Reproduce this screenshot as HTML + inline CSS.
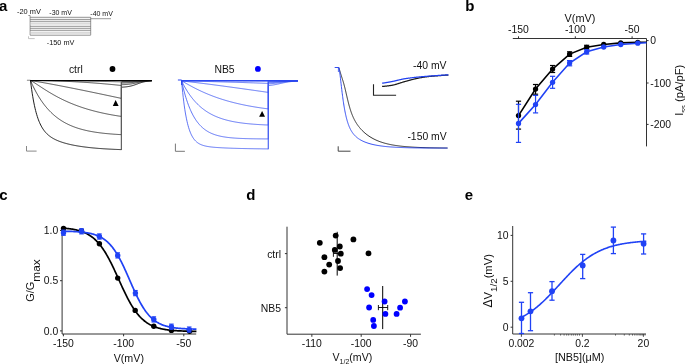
<!DOCTYPE html>
<html><head><meta charset="utf-8"><style>
html,body{margin:0;padding:0;background:#fff;width:685px;height:364px;overflow:hidden;}
svg{display:block;will-change:transform;}
text{font-family:"Liberation Sans",sans-serif;}
</style></head><body>
<svg width="685" height="364" viewBox="0 0 685 364" font-family="Liberation Sans, sans-serif">
<rect width="685" height="364" fill="#fff"/>
<text x="-1.00" y="11.00" font-size="15" text-anchor="start" fill="#000" font-weight="bold" >a</text>
<text x="17.00" y="14.20" font-size="7.4" text-anchor="start" fill="#111" >-20 mV</text>
<text x="49.30" y="15.20" font-size="7" text-anchor="start" fill="#111" >-30 mV</text>
<text x="90.30" y="16.00" font-size="7" text-anchor="start" fill="#111" >-40 mV</text>
<text x="46.80" y="44.50" font-size="7.3" text-anchor="start" fill="#111" >-150 mV</text>
<path d="M28.3,15.5 H30.1 V35.1" stroke="#555" stroke-width="0.6" fill="none" />
<line x1="30.10" y1="17.30" x2="90.70" y2="17.30" stroke="#6e6e6e" stroke-width="0.75"/>
<line x1="30.10" y1="19.40" x2="90.70" y2="19.40" stroke="#6e6e6e" stroke-width="0.75"/>
<line x1="30.10" y1="21.30" x2="90.70" y2="21.30" stroke="#6e6e6e" stroke-width="0.75"/>
<line x1="30.10" y1="26.30" x2="90.70" y2="26.30" stroke="#6e6e6e" stroke-width="0.75"/>
<line x1="30.10" y1="28.30" x2="90.70" y2="28.30" stroke="#6e6e6e" stroke-width="0.75"/>
<line x1="30.10" y1="30.30" x2="90.70" y2="30.30" stroke="#6e6e6e" stroke-width="0.75"/>
<line x1="30.10" y1="35.20" x2="90.70" y2="35.20" stroke="#6e6e6e" stroke-width="0.75"/>
<line x1="30.10" y1="23.00" x2="90.70" y2="23.00" stroke="#c4c4c4" stroke-width="0.75"/>
<line x1="30.10" y1="24.00" x2="90.70" y2="24.00" stroke="#c4c4c4" stroke-width="0.75"/>
<line x1="30.10" y1="32.20" x2="90.70" y2="32.20" stroke="#c4c4c4" stroke-width="0.75"/>
<line x1="30.10" y1="33.20" x2="90.70" y2="33.20" stroke="#c4c4c4" stroke-width="0.75"/>
<line x1="90.70" y1="17.20" x2="90.70" y2="35.10" stroke="#555" stroke-width="0.6"/>
<line x1="90.70" y1="18.69" x2="111.00" y2="18.69" stroke="#555" stroke-width="0.6"/>
<path d="M28.5,36.3 V38.6 H34.7" stroke="#aaa" stroke-width="0.7" fill="none" />
<line x1="26.90" y1="80.30" x2="30.50" y2="80.30" stroke="#999" stroke-width="1.2"/>
<path d="M30.50,80.60 L31.07,85.17 L31.64,89.36 L32.20,93.20 L32.77,96.74 L33.34,99.98 L33.91,102.97 L34.48,105.72 L35.05,108.25 L35.61,110.58 L36.18,112.73 L36.75,114.72 L37.32,116.56 L37.89,118.26 L38.45,119.83 L39.02,121.29 L39.59,122.64 L40.16,123.90 L40.73,125.06 L41.29,126.15 L41.86,127.17 L42.43,128.11 L43.00,129.00 L43.57,129.82 L44.14,130.60 L44.70,131.33 L45.27,132.01 L45.84,132.65 L46.41,133.26 L46.98,133.83 L47.54,134.37 L48.11,134.88 L48.68,135.37 L49.25,135.82 L49.82,136.26 L50.38,136.67 L50.95,137.07 L51.52,137.45 L52.09,137.80 L52.66,138.15 L53.23,138.48 L53.79,138.79 L54.36,139.09 L54.93,139.38 L55.50,139.66 L56.07,139.93 L56.63,140.19 L57.20,140.44 L57.77,140.68 L58.34,140.91 L58.91,141.14 L59.47,141.36 L60.04,141.57 L60.61,141.77 L61.18,141.97 L61.75,142.16 L62.32,142.35 L62.88,142.53 L63.45,142.71 L64.02,142.88 L64.59,143.05 L65.16,143.21 L65.72,143.37 L66.29,143.52 L66.86,143.67 L67.43,143.82 L68.00,143.96 L68.56,144.10 L69.13,144.24 L69.70,144.37 L70.27,144.50 L70.84,144.63 L71.41,144.75 L71.97,144.87 L72.54,144.99 L73.11,145.10 L73.68,145.22 L74.25,145.33 L74.81,145.44 L75.38,145.54 L75.95,145.65 L76.52,145.75 L77.09,145.85 L77.65,145.94 L78.22,146.04 L78.79,146.13 L79.36,146.22 L79.93,146.31 L80.50,146.40 L81.06,146.48 L81.63,146.57 L82.20,146.65 L82.77,146.73 L83.34,146.81 L83.90,146.88 L84.47,146.96 L85.04,147.03 L85.61,147.10 L86.18,147.17 L86.74,147.24 L87.31,147.31 L87.88,147.38 L88.45,147.44 L89.02,147.50 L89.59,147.57 L90.15,147.63 L90.72,147.69 L91.29,147.75 L91.86,147.80 L92.43,147.86 L92.99,147.92 L93.56,147.97 L94.13,148.02 L94.70,148.07 L95.27,148.13 L95.83,148.17 L96.40,148.22 L96.97,148.27 L97.54,148.32 L98.11,148.36 L98.67,148.41 L99.24,148.45 L99.81,148.50 L100.38,148.54 L100.95,148.58 L101.52,148.62 L102.08,148.66 L102.65,148.70 L103.22,148.74 L103.79,148.78 L104.36,148.81 L104.92,148.85 L105.49,148.88 L106.06,148.92 L106.63,148.95 L107.20,148.98 L107.77,149.02 L108.33,149.05 L108.90,149.08 L109.47,149.11 L110.04,149.14 L110.61,149.17 L111.17,149.20 L111.74,149.23 L112.31,149.25 L112.88,149.28 L113.45,149.31 L114.01,149.33 L114.58,149.36 L115.15,149.38 L115.72,149.41 L116.29,149.43 L116.86,149.46 L117.42,149.48 L117.99,149.50 L118.56,149.52 L119.13,149.54 L119.70,149.57 L120.26,149.59 L120.83,149.61 L121.40,149.63 L121.40,87.20 L121.91,87.18 L122.41,87.15 L122.92,87.12 L123.43,87.09 L123.93,87.05 L124.44,87.01 L124.95,86.97 L125.45,86.92 L125.96,86.87 L126.47,86.81 L126.97,86.75 L127.48,86.68 L127.99,86.60 L128.49,86.52 L129.00,86.43 L129.51,86.34 L130.01,86.23 L130.52,86.12 L131.03,86.00 L131.53,85.87 L132.04,85.74 L132.55,85.60 L133.05,85.45 L133.56,85.29 L134.07,85.12 L134.57,84.95 L135.08,84.78 L135.59,84.60 L136.09,84.41 L136.60,84.23 L137.11,84.04 L137.61,83.85 L138.12,83.67 L138.63,83.48 L139.13,83.30 L139.64,83.12 L140.15,82.95 L140.65,82.78 L141.16,82.62 L141.67,82.47 L142.17,82.33 L142.68,82.19 L143.19,82.06 L143.69,81.94 L144.20,81.82 L144.71,81.71 L145.21,81.62 L145.72,81.52 L146.23,81.44 L146.73,81.36 L147.24,81.29 L147.75,81.22 L148.25,81.17 L148.76,81.11 L149.27,81.06 L149.77,81.02 L150.28,80.97 L150.79,80.94 L151.29,80.90 L151.80,80.87" stroke="#111" stroke-width="0.95" fill="none" />
<path d="M30.50,80.60 L31.07,81.89 L31.64,83.16 L32.20,84.39 L32.77,85.60 L33.34,86.77 L33.91,87.92 L34.48,89.04 L35.05,90.14 L35.61,91.21 L36.18,92.26 L36.75,93.28 L37.32,94.27 L37.89,95.25 L38.45,96.20 L39.02,97.13 L39.59,98.04 L40.16,98.92 L40.73,99.79 L41.29,100.63 L41.86,101.46 L42.43,102.26 L43.00,103.05 L43.57,103.82 L44.14,104.57 L44.70,105.30 L45.27,106.02 L45.84,106.72 L46.41,107.40 L46.98,108.07 L47.54,108.72 L48.11,109.35 L48.68,109.97 L49.25,110.58 L49.82,111.17 L50.38,111.75 L50.95,112.32 L51.52,112.87 L52.09,113.41 L52.66,113.93 L53.23,114.45 L53.79,114.95 L54.36,115.44 L54.93,115.92 L55.50,116.38 L56.07,116.84 L56.63,117.29 L57.20,117.72 L57.77,118.15 L58.34,118.56 L58.91,118.97 L59.47,119.36 L60.04,119.75 L60.61,120.13 L61.18,120.50 L61.75,120.86 L62.32,121.21 L62.88,121.55 L63.45,121.89 L64.02,122.22 L64.59,122.54 L65.16,122.85 L65.72,123.16 L66.29,123.45 L66.86,123.74 L67.43,124.03 L68.00,124.31 L68.56,124.58 L69.13,124.84 L69.70,125.10 L70.27,125.35 L70.84,125.60 L71.41,125.84 L71.97,126.08 L72.54,126.31 L73.11,126.53 L73.68,126.75 L74.25,126.96 L74.81,127.17 L75.38,127.38 L75.95,127.58 L76.52,127.77 L77.09,127.96 L77.65,128.15 L78.22,128.33 L78.79,128.51 L79.36,128.68 L79.93,128.85 L80.50,129.01 L81.06,129.17 L81.63,129.33 L82.20,129.49 L82.77,129.64 L83.34,129.78 L83.90,129.92 L84.47,130.06 L85.04,130.20 L85.61,130.33 L86.18,130.46 L86.74,130.59 L87.31,130.72 L87.88,130.84 L88.45,130.96 L89.02,131.07 L89.59,131.18 L90.15,131.29 L90.72,131.40 L91.29,131.51 L91.86,131.61 L92.43,131.71 L92.99,131.81 L93.56,131.90 L94.13,132.00 L94.70,132.09 L95.27,132.18 L95.83,132.27 L96.40,132.35 L96.97,132.43 L97.54,132.51 L98.11,132.59 L98.67,132.67 L99.24,132.75 L99.81,132.82 L100.38,132.89 L100.95,132.96 L101.52,133.03 L102.08,133.10 L102.65,133.16 L103.22,133.23 L103.79,133.29 L104.36,133.35 L104.92,133.41 L105.49,133.47 L106.06,133.53 L106.63,133.58 L107.20,133.64 L107.77,133.69 L108.33,133.74 L108.90,133.79 L109.47,133.84 L110.04,133.89 L110.61,133.94 L111.17,133.98 L111.74,134.03 L112.31,134.07 L112.88,134.11 L113.45,134.16 L114.01,134.20 L114.58,134.24 L115.15,134.27 L115.72,134.31 L116.29,134.35 L116.86,134.39 L117.42,134.42 L117.99,134.46 L118.56,134.49 L119.13,134.52 L119.70,134.56 L120.26,134.59 L120.83,134.62 L121.40,134.65 L121.40,84.70 L121.91,84.69 L122.41,84.67 L122.92,84.65 L123.43,84.63 L123.93,84.61 L124.44,84.58 L124.95,84.56 L125.45,84.53 L125.96,84.49 L126.47,84.46 L126.97,84.42 L127.48,84.38 L127.99,84.33 L128.49,84.28 L129.00,84.22 L129.51,84.16 L130.01,84.10 L130.52,84.03 L131.03,83.96 L131.53,83.88 L132.04,83.79 L132.55,83.70 L133.05,83.61 L133.56,83.51 L134.07,83.41 L134.57,83.30 L135.08,83.20 L135.59,83.08 L136.09,82.97 L136.60,82.85 L137.11,82.74 L137.61,82.62 L138.12,82.51 L138.63,82.39 L139.13,82.28 L139.64,82.17 L140.15,82.06 L140.65,81.96 L141.16,81.86 L141.67,81.76 L142.17,81.67 L142.68,81.59 L143.19,81.51 L143.69,81.43 L144.20,81.36 L144.71,81.29 L145.21,81.23 L145.72,81.17 L146.23,81.12 L146.73,81.07 L147.24,81.03 L147.75,80.99 L148.25,80.95 L148.76,80.92 L149.27,80.89 L149.77,80.86 L150.28,80.83 L150.79,80.81 L151.29,80.79 L151.80,80.77" stroke="#111" stroke-width="0.75" fill="none" />
<path d="M30.50,80.60 L31.07,80.82 L31.64,81.11 L32.20,81.42 L32.77,81.75 L33.34,82.09 L33.91,82.44 L34.48,82.79 L35.05,83.16 L35.61,83.52 L36.18,83.89 L36.75,84.26 L37.32,84.64 L37.89,85.01 L38.45,85.38 L39.02,85.76 L39.59,86.13 L40.16,86.51 L40.73,86.88 L41.29,87.25 L41.86,87.63 L42.43,88.00 L43.00,88.36 L43.57,88.73 L44.14,89.09 L44.70,89.46 L45.27,89.82 L45.84,90.18 L46.41,90.53 L46.98,90.89 L47.54,91.24 L48.11,91.59 L48.68,91.93 L49.25,92.28 L49.82,92.62 L50.38,92.95 L50.95,93.29 L51.52,93.62 L52.09,93.95 L52.66,94.28 L53.23,94.60 L53.79,94.93 L54.36,95.24 L54.93,95.56 L55.50,95.87 L56.07,96.18 L56.63,96.49 L57.20,96.80 L57.77,97.10 L58.34,97.40 L58.91,97.69 L59.47,97.98 L60.04,98.27 L60.61,98.56 L61.18,98.85 L61.75,99.13 L62.32,99.41 L62.88,99.68 L63.45,99.95 L64.02,100.22 L64.59,100.49 L65.16,100.76 L65.72,101.02 L66.29,101.28 L66.86,101.53 L67.43,101.79 L68.00,102.04 L68.56,102.29 L69.13,102.53 L69.70,102.78 L70.27,103.02 L70.84,103.25 L71.41,103.49 L71.97,103.72 L72.54,103.95 L73.11,104.18 L73.68,104.40 L74.25,104.63 L74.81,104.85 L75.38,105.07 L75.95,105.28 L76.52,105.49 L77.09,105.70 L77.65,105.91 L78.22,106.12 L78.79,106.32 L79.36,106.52 L79.93,106.72 L80.50,106.92 L81.06,107.11 L81.63,107.31 L82.20,107.50 L82.77,107.68 L83.34,107.87 L83.90,108.05 L84.47,108.24 L85.04,108.42 L85.61,108.59 L86.18,108.77 L86.74,108.94 L87.31,109.11 L87.88,109.28 L88.45,109.45 L89.02,109.62 L89.59,109.78 L90.15,109.94 L90.72,110.10 L91.29,110.26 L91.86,110.42 L92.43,110.57 L92.99,110.72 L93.56,110.87 L94.13,111.02 L94.70,111.17 L95.27,111.31 L95.83,111.46 L96.40,111.60 L96.97,111.74 L97.54,111.88 L98.11,112.02 L98.67,112.15 L99.24,112.29 L99.81,112.42 L100.38,112.55 L100.95,112.68 L101.52,112.81 L102.08,112.93 L102.65,113.06 L103.22,113.18 L103.79,113.30 L104.36,113.42 L104.92,113.54 L105.49,113.66 L106.06,113.77 L106.63,113.89 L107.20,114.00 L107.77,114.11 L108.33,114.22 L108.90,114.33 L109.47,114.44 L110.04,114.55 L110.61,114.65 L111.17,114.76 L111.74,114.86 L112.31,114.96 L112.88,115.06 L113.45,115.16 L114.01,115.26 L114.58,115.35 L115.15,115.45 L115.72,115.54 L116.29,115.64 L116.86,115.73 L117.42,115.82 L117.99,115.91 L118.56,116.00 L119.13,116.09 L119.70,116.17 L120.26,116.26 L120.83,116.34 L121.40,116.43 L121.40,83.10 L121.91,83.09 L122.41,83.08 L122.92,83.07 L123.43,83.06 L123.93,83.04 L124.44,83.03 L124.95,83.01 L125.45,82.99 L125.96,82.97 L126.47,82.95 L126.97,82.93 L127.48,82.90 L127.99,82.87 L128.49,82.84 L129.00,82.81 L129.51,82.77 L130.01,82.73 L130.52,82.69 L131.03,82.65 L131.53,82.60 L132.04,82.55 L132.55,82.49 L133.05,82.44 L133.56,82.38 L134.07,82.31 L134.57,82.25 L135.08,82.18 L135.59,82.11 L136.09,82.04 L136.60,81.97 L137.11,81.90 L137.61,81.83 L138.12,81.76 L138.63,81.69 L139.13,81.62 L139.64,81.56 L140.15,81.49 L140.65,81.43 L141.16,81.37 L141.67,81.31 L142.17,81.25 L142.68,81.20 L143.19,81.15 L143.69,81.11 L144.20,81.06 L144.71,81.02 L145.21,80.98 L145.72,80.95 L146.23,80.92 L146.73,80.89 L147.24,80.86 L147.75,80.84 L148.25,80.81 L148.76,80.79 L149.27,80.77 L149.77,80.76 L150.28,80.74 L150.79,80.73 L151.29,80.72 L151.80,80.70" stroke="#111" stroke-width="0.75" fill="none" />
<path d="M30.50,80.60 L31.07,80.67 L31.64,80.74 L32.20,80.82 L32.77,80.91 L33.34,80.99 L33.91,81.08 L34.48,81.17 L35.05,81.26 L35.61,81.35 L36.18,81.44 L36.75,81.54 L37.32,81.63 L37.89,81.73 L38.45,81.82 L39.02,81.92 L39.59,82.01 L40.16,82.11 L40.73,82.21 L41.29,82.31 L41.86,82.41 L42.43,82.51 L43.00,82.61 L43.57,82.71 L44.14,82.81 L44.70,82.91 L45.27,83.01 L45.84,83.11 L46.41,83.22 L46.98,83.32 L47.54,83.42 L48.11,83.53 L48.68,83.63 L49.25,83.74 L49.82,83.84 L50.38,83.94 L50.95,84.05 L51.52,84.16 L52.09,84.26 L52.66,84.37 L53.23,84.47 L53.79,84.58 L54.36,84.69 L54.93,84.79 L55.50,84.90 L56.07,85.01 L56.63,85.12 L57.20,85.23 L57.77,85.33 L58.34,85.44 L58.91,85.55 L59.47,85.66 L60.04,85.77 L60.61,85.88 L61.18,85.99 L61.75,86.10 L62.32,86.21 L62.88,86.32 L63.45,86.43 L64.02,86.54 L64.59,86.65 L65.16,86.76 L65.72,86.87 L66.29,86.99 L66.86,87.10 L67.43,87.21 L68.00,87.32 L68.56,87.43 L69.13,87.54 L69.70,87.66 L70.27,87.77 L70.84,87.88 L71.41,88.00 L71.97,88.11 L72.54,88.22 L73.11,88.33 L73.68,88.45 L74.25,88.56 L74.81,88.68 L75.38,88.79 L75.95,88.90 L76.52,89.02 L77.09,89.13 L77.65,89.25 L78.22,89.36 L78.79,89.48 L79.36,89.59 L79.93,89.71 L80.50,89.82 L81.06,89.94 L81.63,90.05 L82.20,90.17 L82.77,90.28 L83.34,90.40 L83.90,90.52 L84.47,90.63 L85.04,90.75 L85.61,90.86 L86.18,90.98 L86.74,91.10 L87.31,91.21 L87.88,91.33 L88.45,91.45 L89.02,91.57 L89.59,91.68 L90.15,91.80 L90.72,91.92 L91.29,92.03 L91.86,92.15 L92.43,92.27 L92.99,92.39 L93.56,92.51 L94.13,92.62 L94.70,92.74 L95.27,92.86 L95.83,92.98 L96.40,93.10 L96.97,93.22 L97.54,93.33 L98.11,93.45 L98.67,93.57 L99.24,93.69 L99.81,93.81 L100.38,93.93 L100.95,94.05 L101.52,94.17 L102.08,94.29 L102.65,94.41 L103.22,94.53 L103.79,94.65 L104.36,94.77 L104.92,94.89 L105.49,95.01 L106.06,95.13 L106.63,95.25 L107.20,95.37 L107.77,95.49 L108.33,95.61 L108.90,95.73 L109.47,95.85 L110.04,95.97 L110.61,96.09 L111.17,96.21 L111.74,96.33 L112.31,96.45 L112.88,96.57 L113.45,96.69 L114.01,96.82 L114.58,96.94 L115.15,97.06 L115.72,97.18 L116.29,97.30 L116.86,97.42 L117.42,97.55 L117.99,97.67 L118.56,97.79 L119.13,97.91 L119.70,98.03 L120.26,98.16 L120.83,98.28 L121.40,98.40 L121.40,82.00 L121.91,81.99 L122.41,81.99 L122.92,81.98 L123.43,81.98 L123.93,81.97 L124.44,81.96 L124.95,81.95 L125.45,81.94 L125.96,81.93 L126.47,81.92 L126.97,81.90 L127.48,81.89 L127.99,81.87 L128.49,81.86 L129.00,81.84 L129.51,81.82 L130.01,81.79 L130.52,81.77 L131.03,81.75 L131.53,81.72 L132.04,81.69 L132.55,81.66 L133.05,81.63 L133.56,81.59 L134.07,81.56 L134.57,81.52 L135.08,81.49 L135.59,81.45 L136.09,81.41 L136.60,81.37 L137.11,81.33 L137.61,81.29 L138.12,81.25 L138.63,81.21 L139.13,81.17 L139.64,81.14 L140.15,81.10 L140.65,81.06 L141.16,81.03 L141.67,81.00 L142.17,80.97 L142.68,80.94 L143.19,80.91 L143.69,80.88 L144.20,80.86 L144.71,80.84 L145.21,80.82 L145.72,80.80 L146.23,80.78 L146.73,80.76 L147.24,80.75 L147.75,80.73 L148.25,80.72 L148.76,80.71 L149.27,80.70 L149.77,80.69 L150.28,80.68 L150.79,80.67 L151.29,80.66 L151.80,80.66" stroke="#111" stroke-width="0.75" fill="none" />
<path d="M30.50,80.60 L31.07,80.60 L31.64,80.60 L32.20,80.60 L32.77,80.60 L33.34,80.60 L33.91,80.61 L34.48,80.61 L35.05,80.61 L35.61,80.62 L36.18,80.62 L36.75,80.62 L37.32,80.63 L37.89,80.63 L38.45,80.64 L39.02,80.64 L39.59,80.65 L40.16,80.66 L40.73,80.66 L41.29,80.67 L41.86,80.68 L42.43,80.68 L43.00,80.69 L43.57,80.70 L44.14,80.71 L44.70,80.72 L45.27,80.73 L45.84,80.74 L46.41,80.75 L46.98,80.76 L47.54,80.77 L48.11,80.78 L48.68,80.80 L49.25,80.81 L49.82,80.82 L50.38,80.83 L50.95,80.85 L51.52,80.86 L52.09,80.88 L52.66,80.89 L53.23,80.91 L53.79,80.92 L54.36,80.94 L54.93,80.95 L55.50,80.97 L56.07,80.99 L56.63,81.01 L57.20,81.02 L57.77,81.04 L58.34,81.06 L58.91,81.08 L59.47,81.10 L60.04,81.12 L60.61,81.14 L61.18,81.16 L61.75,81.18 L62.32,81.20 L62.88,81.22 L63.45,81.24 L64.02,81.27 L64.59,81.29 L65.16,81.31 L65.72,81.34 L66.29,81.36 L66.86,81.38 L67.43,81.41 L68.00,81.43 L68.56,81.46 L69.13,81.49 L69.70,81.51 L70.27,81.54 L70.84,81.56 L71.41,81.59 L71.97,81.62 L72.54,81.65 L73.11,81.68 L73.68,81.71 L74.25,81.73 L74.81,81.76 L75.38,81.79 L75.95,81.82 L76.52,81.86 L77.09,81.89 L77.65,81.92 L78.22,81.95 L78.79,81.98 L79.36,82.02 L79.93,82.05 L80.50,82.08 L81.06,82.12 L81.63,82.15 L82.20,82.19 L82.77,82.22 L83.34,82.26 L83.90,82.29 L84.47,82.33 L85.04,82.36 L85.61,82.40 L86.18,82.44 L86.74,82.48 L87.31,82.51 L87.88,82.55 L88.45,82.59 L89.02,82.63 L89.59,82.67 L90.15,82.71 L90.72,82.75 L91.29,82.79 L91.86,82.83 L92.43,82.87 L92.99,82.92 L93.56,82.96 L94.13,83.00 L94.70,83.04 L95.27,83.09 L95.83,83.13 L96.40,83.18 L96.97,83.22 L97.54,83.27 L98.11,83.31 L98.67,83.36 L99.24,83.40 L99.81,83.45 L100.38,83.50 L100.95,83.54 L101.52,83.59 L102.08,83.64 L102.65,83.69 L103.22,83.74 L103.79,83.79 L104.36,83.83 L104.92,83.88 L105.49,83.94 L106.06,83.99 L106.63,84.04 L107.20,84.09 L107.77,84.14 L108.33,84.19 L108.90,84.25 L109.47,84.30 L110.04,84.35 L110.61,84.41 L111.17,84.46 L111.74,84.51 L112.31,84.57 L112.88,84.62 L113.45,84.68 L114.01,84.74 L114.58,84.79 L115.15,84.85 L115.72,84.91 L116.29,84.96 L116.86,85.02 L117.42,85.08 L117.99,85.14 L118.56,85.20 L119.13,85.26 L119.70,85.32 L120.26,85.38 L120.83,85.44 L121.40,85.50 L121.40,81.30 L121.91,81.30 L122.41,81.29 L122.92,81.29 L123.43,81.29 L123.93,81.28 L124.44,81.28 L124.95,81.28 L125.45,81.27 L125.96,81.26 L126.47,81.26 L126.97,81.25 L127.48,81.24 L127.99,81.24 L128.49,81.23 L129.00,81.22 L129.51,81.21 L130.01,81.20 L130.52,81.19 L131.03,81.17 L131.53,81.16 L132.04,81.15 L132.55,81.13 L133.05,81.11 L133.56,81.10 L134.07,81.08 L134.57,81.06 L135.08,81.04 L135.59,81.02 L136.09,81.00 L136.60,80.98 L137.11,80.96 L137.61,80.95 L138.12,80.93 L138.63,80.91 L139.13,80.89 L139.64,80.87 L140.15,80.85 L140.65,80.83 L141.16,80.81 L141.67,80.80 L142.17,80.78 L142.68,80.77 L143.19,80.75 L143.69,80.74 L144.20,80.73 L144.71,80.72 L145.21,80.71 L145.72,80.70 L146.23,80.69 L146.73,80.68 L147.24,80.67 L147.75,80.67 L148.25,80.66 L148.76,80.65 L149.27,80.65 L149.77,80.64 L150.28,80.64 L150.79,80.64 L151.29,80.63 L151.80,80.63" stroke="#111" stroke-width="0.75" fill="none" />
<path d="M30.50,80.60 L31.07,80.60 L31.64,80.60 L32.20,80.60 L32.77,80.60 L33.34,80.61 L33.91,80.61 L34.48,80.61 L35.05,80.61 L35.61,80.62 L36.18,80.62 L36.75,80.62 L37.32,80.62 L37.89,80.63 L38.45,80.63 L39.02,80.63 L39.59,80.64 L40.16,80.64 L40.73,80.65 L41.29,80.65 L41.86,80.65 L42.43,80.66 L43.00,80.66 L43.57,80.67 L44.14,80.67 L44.70,80.67 L45.27,80.68 L45.84,80.68 L46.41,80.69 L46.98,80.69 L47.54,80.70 L48.11,80.70 L48.68,80.71 L49.25,80.71 L49.82,80.72 L50.38,80.72 L50.95,80.73 L51.52,80.73 L52.09,80.74 L52.66,80.74 L53.23,80.75 L53.79,80.76 L54.36,80.76 L54.93,80.77 L55.50,80.77 L56.07,80.78 L56.63,80.78 L57.20,80.79 L57.77,80.80 L58.34,80.80 L58.91,80.81 L59.47,80.82 L60.04,80.82 L60.61,80.83 L61.18,80.84 L61.75,80.84 L62.32,80.85 L62.88,80.86 L63.45,80.86 L64.02,80.87 L64.59,80.88 L65.16,80.88 L65.72,80.89 L66.29,80.90 L66.86,80.90 L67.43,80.91 L68.00,80.92 L68.56,80.93 L69.13,80.93 L69.70,80.94 L70.27,80.95 L70.84,80.95 L71.41,80.96 L71.97,80.97 L72.54,80.98 L73.11,80.99 L73.68,80.99 L74.25,81.00 L74.81,81.01 L75.38,81.02 L75.95,81.02 L76.52,81.03 L77.09,81.04 L77.65,81.05 L78.22,81.06 L78.79,81.06 L79.36,81.07 L79.93,81.08 L80.50,81.09 L81.06,81.10 L81.63,81.11 L82.20,81.11 L82.77,81.12 L83.34,81.13 L83.90,81.14 L84.47,81.15 L85.04,81.16 L85.61,81.17 L86.18,81.18 L86.74,81.18 L87.31,81.19 L87.88,81.20 L88.45,81.21 L89.02,81.22 L89.59,81.23 L90.15,81.24 L90.72,81.25 L91.29,81.26 L91.86,81.27 L92.43,81.27 L92.99,81.28 L93.56,81.29 L94.13,81.30 L94.70,81.31 L95.27,81.32 L95.83,81.33 L96.40,81.34 L96.97,81.35 L97.54,81.36 L98.11,81.37 L98.67,81.38 L99.24,81.39 L99.81,81.40 L100.38,81.41 L100.95,81.42 L101.52,81.43 L102.08,81.44 L102.65,81.45 L103.22,81.46 L103.79,81.47 L104.36,81.48 L104.92,81.49 L105.49,81.50 L106.06,81.51 L106.63,81.52 L107.20,81.53 L107.77,81.54 L108.33,81.55 L108.90,81.56 L109.47,81.57 L110.04,81.58 L110.61,81.59 L111.17,81.60 L111.74,81.61 L112.31,81.62 L112.88,81.64 L113.45,81.65 L114.01,81.66 L114.58,81.67 L115.15,81.68 L115.72,81.69 L116.29,81.70 L116.86,81.71 L117.42,81.72 L117.99,81.73 L118.56,81.74 L119.13,81.76 L119.70,81.77 L120.26,81.78 L120.83,81.79 L121.40,81.80 L121.40,81.00 L121.91,81.00 L122.41,81.00 L122.92,81.00 L123.43,80.99 L123.93,80.99 L124.44,80.99 L124.95,80.99 L125.45,80.98 L125.96,80.98 L126.47,80.98 L126.97,80.97 L127.48,80.97 L127.99,80.96 L128.49,80.96 L129.00,80.95 L129.51,80.95 L130.01,80.94 L130.52,80.93 L131.03,80.93 L131.53,80.92 L132.04,80.91 L132.55,80.90 L133.05,80.89 L133.56,80.88 L134.07,80.87 L134.57,80.86 L135.08,80.85 L135.59,80.84 L136.09,80.83 L136.60,80.82 L137.11,80.81 L137.61,80.80 L138.12,80.79 L138.63,80.77 L139.13,80.76 L139.64,80.75 L140.15,80.74 L140.65,80.73 L141.16,80.72 L141.67,80.71 L142.17,80.70 L142.68,80.70 L143.19,80.69 L143.69,80.68 L144.20,80.67 L144.71,80.67 L145.21,80.66 L145.72,80.66 L146.23,80.65 L146.73,80.65 L147.24,80.64 L147.75,80.64 L148.25,80.63 L148.76,80.63 L149.27,80.63 L149.77,80.63 L150.28,80.62 L150.79,80.62 L151.29,80.62 L151.80,80.62" stroke="#111" stroke-width="0.75" fill="none" />
<line x1="30.20" y1="80.40" x2="151.80" y2="80.40" stroke="#000" stroke-width="1.05"/>
<line x1="121.40" y1="81.00" x2="121.40" y2="149.30" stroke="#777" stroke-width="0.8"/>
<path d="M26.5,146.0 V151.1 H36.6" stroke="#888" stroke-width="1.0" fill="none" />
<text x="68.90" y="72.90" font-size="10.4" text-anchor="start" fill="#111" >ctrl</text>
<circle cx="112.50" cy="69.00" r="2.9" fill="#000"/>
<polygon points="115.6,99.9 112.8,105.9 118.6,105.9" fill="#000"/>
<line x1="177.90" y1="80.00" x2="181.60" y2="80.00" stroke="#2a46f0" stroke-width="1.0"/>
<line x1="181.60" y1="80.00" x2="181.60" y2="85.00" stroke="#2a46f0" stroke-width="1.0"/>
<path d="M181.60,81.00 L182.14,87.00 L182.68,92.45 L183.23,97.40 L183.77,101.88 L184.31,105.95 L184.85,109.65 L185.39,113.01 L185.94,116.06 L186.48,118.82 L187.02,121.34 L187.56,123.62 L188.10,125.70 L188.64,127.59 L189.19,129.30 L189.73,130.86 L190.27,132.28 L190.81,133.57 L191.35,134.75 L191.90,135.82 L192.44,136.79 L192.98,137.68 L193.52,138.49 L194.06,139.23 L194.60,139.91 L195.15,140.52 L195.69,141.09 L196.23,141.60 L196.77,142.07 L197.31,142.50 L197.86,142.90 L198.40,143.26 L198.94,143.59 L199.48,143.90 L200.02,144.18 L200.57,144.43 L201.11,144.67 L201.65,144.89 L202.19,145.09 L202.73,145.28 L203.28,145.45 L203.82,145.61 L204.36,145.76 L204.90,145.90 L205.44,146.03 L205.98,146.15 L206.53,146.26 L207.07,146.36 L207.61,146.46 L208.15,146.55 L208.69,146.64 L209.24,146.72 L209.78,146.79 L210.32,146.86 L210.86,146.93 L211.40,147.00 L211.94,147.06 L212.49,147.11 L213.03,147.17 L213.57,147.22 L214.11,147.27 L214.65,147.32 L215.20,147.36 L215.74,147.41 L216.28,147.45 L216.82,147.49 L217.36,147.53 L217.91,147.56 L218.45,147.60 L218.99,147.63 L219.53,147.67 L220.07,147.70 L220.62,147.73 L221.16,147.76 L221.70,147.79 L222.24,147.82 L222.78,147.85 L223.32,147.87 L223.87,147.90 L224.41,147.93 L224.95,147.95 L225.49,147.97 L226.03,148.00 L226.58,148.02 L227.12,148.04 L227.66,148.07 L228.20,148.09 L228.74,148.11 L229.28,148.13 L229.83,148.15 L230.37,148.17 L230.91,148.19 L231.45,148.21 L231.99,148.22 L232.54,148.24 L233.08,148.26 L233.62,148.28 L234.16,148.29 L234.70,148.31 L235.25,148.33 L235.79,148.34 L236.33,148.36 L236.87,148.37 L237.41,148.39 L237.95,148.40 L238.50,148.42 L239.04,148.43 L239.58,148.45 L240.12,148.46 L240.66,148.47 L241.21,148.49 L241.75,148.50 L242.29,148.51 L242.83,148.52 L243.37,148.54 L243.92,148.55 L244.46,148.56 L245.00,148.57 L245.54,148.58 L246.08,148.59 L246.62,148.60 L247.17,148.62 L247.71,148.63 L248.25,148.64 L248.79,148.65 L249.33,148.66 L249.88,148.67 L250.42,148.68 L250.96,148.68 L251.50,148.69 L252.04,148.70 L252.59,148.71 L253.13,148.72 L253.67,148.73 L254.21,148.74 L254.75,148.75 L255.30,148.75 L255.84,148.76 L256.38,148.77 L256.92,148.78 L257.46,148.79 L258.00,148.79 L258.55,148.80 L259.09,148.81 L259.63,148.81 L260.17,148.82 L260.71,148.83 L261.26,148.83 L261.80,148.84 L262.34,148.85 L262.88,148.85 L263.42,148.86 L263.97,148.87 L264.51,148.87 L265.05,148.88 L265.59,148.88 L266.13,148.89 L266.67,148.89 L267.22,148.90 L267.76,148.91 L268.30,148.91 L268.30,85.60 L268.80,85.55 L269.29,85.50 L269.79,85.44 L270.28,85.39 L270.78,85.32 L271.27,85.26 L271.76,85.19 L272.26,85.12 L272.75,85.04 L273.25,84.96 L273.75,84.88 L274.24,84.79 L274.74,84.71 L275.23,84.61 L275.73,84.52 L276.22,84.42 L276.72,84.32 L277.21,84.21 L277.70,84.11 L278.20,84.00 L278.69,83.89 L279.19,83.78 L279.69,83.66 L280.18,83.55 L280.68,83.44 L281.17,83.33 L281.67,83.22 L282.16,83.11 L282.66,83.00 L283.15,82.89 L283.64,82.78 L284.14,82.68 L284.63,82.58 L285.13,82.48 L285.62,82.39 L286.12,82.30 L286.62,82.21 L287.11,82.13 L287.61,82.04 L288.10,81.97 L288.60,81.89 L289.09,81.82 L289.58,81.76 L290.08,81.69 L290.57,81.63 L291.07,81.58 L291.56,81.52 L292.06,81.47 L292.56,81.43 L293.05,81.38 L293.55,81.34 L294.04,81.30 L294.54,81.26 L295.03,81.23 L295.52,81.20 L296.02,81.17 L296.51,81.14 L297.01,81.12 L297.50,81.09 L298.00,81.07" stroke="#2a46f0" stroke-width="0.75" fill="none" />
<path d="M181.60,81.00 L182.14,83.40 L182.68,85.71 L183.23,87.92 L183.77,90.03 L184.31,92.06 L184.85,94.01 L185.39,95.87 L185.94,97.66 L186.48,99.38 L187.02,101.02 L187.56,102.59 L188.10,104.10 L188.64,105.55 L189.19,106.93 L189.73,108.26 L190.27,109.54 L190.81,110.76 L191.35,111.93 L191.90,113.05 L192.44,114.13 L192.98,115.16 L193.52,116.15 L194.06,117.09 L194.60,118.00 L195.15,118.87 L195.69,119.71 L196.23,120.51 L196.77,121.27 L197.31,122.01 L197.86,122.71 L198.40,123.39 L198.94,124.03 L199.48,124.65 L200.02,125.25 L200.57,125.82 L201.11,126.37 L201.65,126.89 L202.19,127.39 L202.73,127.87 L203.28,128.33 L203.82,128.78 L204.36,129.20 L204.90,129.61 L205.44,130.00 L205.98,130.37 L206.53,130.73 L207.07,131.07 L207.61,131.40 L208.15,131.71 L208.69,132.02 L209.24,132.30 L209.78,132.58 L210.32,132.85 L210.86,133.10 L211.40,133.35 L211.94,133.58 L212.49,133.81 L213.03,134.02 L213.57,134.23 L214.11,134.43 L214.65,134.62 L215.20,134.80 L215.74,134.97 L216.28,135.14 L216.82,135.30 L217.36,135.45 L217.91,135.60 L218.45,135.74 L218.99,135.88 L219.53,136.00 L220.07,136.13 L220.62,136.25 L221.16,136.36 L221.70,136.47 L222.24,136.58 L222.78,136.68 L223.32,136.77 L223.87,136.87 L224.41,136.95 L224.95,137.04 L225.49,137.12 L226.03,137.20 L226.58,137.27 L227.12,137.34 L227.66,137.41 L228.20,137.48 L228.74,137.54 L229.28,137.60 L229.83,137.66 L230.37,137.72 L230.91,137.77 L231.45,137.82 L231.99,137.87 L232.54,137.92 L233.08,137.96 L233.62,138.00 L234.16,138.04 L234.70,138.08 L235.25,138.12 L235.79,138.16 L236.33,138.19 L236.87,138.23 L237.41,138.26 L237.95,138.29 L238.50,138.32 L239.04,138.35 L239.58,138.37 L240.12,138.40 L240.66,138.43 L241.21,138.45 L241.75,138.47 L242.29,138.49 L242.83,138.51 L243.37,138.53 L243.92,138.55 L244.46,138.57 L245.00,138.59 L245.54,138.61 L246.08,138.62 L246.62,138.64 L247.17,138.65 L247.71,138.67 L248.25,138.68 L248.79,138.70 L249.33,138.71 L249.88,138.72 L250.42,138.73 L250.96,138.74 L251.50,138.75 L252.04,138.76 L252.59,138.77 L253.13,138.78 L253.67,138.79 L254.21,138.80 L254.75,138.81 L255.30,138.82 L255.84,138.82 L256.38,138.83 L256.92,138.84 L257.46,138.85 L258.00,138.85 L258.55,138.86 L259.09,138.86 L259.63,138.87 L260.17,138.87 L260.71,138.88 L261.26,138.88 L261.80,138.89 L262.34,138.89 L262.88,138.90 L263.42,138.90 L263.97,138.91 L264.51,138.91 L265.05,138.91 L265.59,138.92 L266.13,138.92 L266.67,138.92 L267.22,138.93 L267.76,138.93 L268.30,138.93 L268.30,83.90 L268.80,83.87 L269.29,83.84 L269.79,83.80 L270.28,83.76 L270.78,83.72 L271.27,83.68 L271.76,83.64 L272.26,83.59 L272.75,83.54 L273.25,83.49 L273.75,83.44 L274.24,83.38 L274.74,83.32 L275.23,83.26 L275.73,83.20 L276.22,83.14 L276.72,83.07 L277.21,83.00 L277.70,82.93 L278.20,82.86 L278.69,82.79 L279.19,82.72 L279.69,82.65 L280.18,82.58 L280.68,82.50 L281.17,82.43 L281.67,82.36 L282.16,82.29 L282.66,82.22 L283.15,82.15 L283.64,82.08 L284.14,82.02 L284.63,81.95 L285.13,81.89 L285.62,81.83 L286.12,81.77 L286.62,81.71 L287.11,81.66 L287.61,81.60 L288.10,81.55 L288.60,81.51 L289.09,81.46 L289.58,81.42 L290.08,81.38 L290.57,81.34 L291.07,81.30 L291.56,81.27 L292.06,81.23 L292.56,81.20 L293.05,81.18 L293.55,81.15 L294.04,81.12 L294.54,81.10 L295.03,81.08 L295.52,81.06 L296.02,81.04 L296.51,81.02 L297.01,81.00 L297.50,80.99 L298.00,80.98" stroke="#2a46f0" stroke-width="0.75" fill="none" />
<path d="M181.60,81.00 L182.14,82.09 L182.68,83.16 L183.23,84.20 L183.77,85.21 L184.31,86.20 L184.85,87.17 L185.39,88.11 L185.94,89.03 L186.48,89.93 L187.02,90.80 L187.56,91.66 L188.10,92.49 L188.64,93.30 L189.19,94.10 L189.73,94.87 L190.27,95.62 L190.81,96.36 L191.35,97.08 L191.90,97.78 L192.44,98.46 L192.98,99.13 L193.52,99.78 L194.06,100.42 L194.60,101.04 L195.15,101.64 L195.69,102.23 L196.23,102.81 L196.77,103.37 L197.31,103.92 L197.86,104.45 L198.40,104.98 L198.94,105.49 L199.48,105.98 L200.02,106.47 L200.57,106.94 L201.11,107.40 L201.65,107.85 L202.19,108.29 L202.73,108.72 L203.28,109.14 L203.82,109.54 L204.36,109.94 L204.90,110.33 L205.44,110.71 L205.98,111.08 L206.53,111.44 L207.07,111.79 L207.61,112.13 L208.15,112.47 L208.69,112.80 L209.24,113.11 L209.78,113.43 L210.32,113.73 L210.86,114.03 L211.40,114.31 L211.94,114.60 L212.49,114.87 L213.03,115.14 L213.57,115.40 L214.11,115.66 L214.65,115.91 L215.20,116.15 L215.74,116.39 L216.28,116.62 L216.82,116.84 L217.36,117.06 L217.91,117.28 L218.45,117.49 L218.99,117.69 L219.53,117.89 L220.07,118.09 L220.62,118.28 L221.16,118.46 L221.70,118.64 L222.24,118.82 L222.78,118.99 L223.32,119.16 L223.87,119.33 L224.41,119.49 L224.95,119.64 L225.49,119.79 L226.03,119.94 L226.58,120.09 L227.12,120.23 L227.66,120.37 L228.20,120.50 L228.74,120.63 L229.28,120.76 L229.83,120.89 L230.37,121.01 L230.91,121.13 L231.45,121.24 L231.99,121.36 L232.54,121.47 L233.08,121.57 L233.62,121.68 L234.16,121.78 L234.70,121.88 L235.25,121.98 L235.79,122.08 L236.33,122.17 L236.87,122.26 L237.41,122.35 L237.95,122.43 L238.50,122.52 L239.04,122.60 L239.58,122.68 L240.12,122.76 L240.66,122.84 L241.21,122.91 L241.75,122.98 L242.29,123.05 L242.83,123.12 L243.37,123.19 L243.92,123.26 L244.46,123.32 L245.00,123.38 L245.54,123.45 L246.08,123.50 L246.62,123.56 L247.17,123.62 L247.71,123.68 L248.25,123.73 L248.79,123.78 L249.33,123.83 L249.88,123.88 L250.42,123.93 L250.96,123.98 L251.50,124.03 L252.04,124.07 L252.59,124.12 L253.13,124.16 L253.67,124.20 L254.21,124.24 L254.75,124.29 L255.30,124.32 L255.84,124.36 L256.38,124.40 L256.92,124.44 L257.46,124.47 L258.00,124.51 L258.55,124.54 L259.09,124.57 L259.63,124.61 L260.17,124.64 L260.71,124.67 L261.26,124.70 L261.80,124.73 L262.34,124.76 L262.88,124.78 L263.42,124.81 L263.97,124.84 L264.51,124.86 L265.05,124.89 L265.59,124.91 L266.13,124.94 L266.67,124.96 L267.22,124.98 L267.76,125.01 L268.30,125.03 L268.30,82.80 L268.80,82.78 L269.29,82.76 L269.79,82.74 L270.28,82.71 L270.78,82.69 L271.27,82.66 L271.76,82.63 L272.26,82.60 L272.75,82.57 L273.25,82.53 L273.75,82.50 L274.24,82.46 L274.74,82.43 L275.23,82.39 L275.73,82.35 L276.22,82.31 L276.72,82.26 L277.21,82.22 L277.70,82.18 L278.20,82.13 L278.69,82.09 L279.19,82.04 L279.69,81.99 L280.18,81.95 L280.68,81.90 L281.17,81.85 L281.67,81.81 L282.16,81.76 L282.66,81.72 L283.15,81.67 L283.64,81.63 L284.14,81.58 L284.63,81.54 L285.13,81.50 L285.62,81.46 L286.12,81.42 L286.62,81.39 L287.11,81.35 L287.61,81.32 L288.10,81.29 L288.60,81.26 L289.09,81.23 L289.58,81.20 L290.08,81.17 L290.57,81.15 L291.07,81.12 L291.56,81.10 L292.06,81.08 L292.56,81.06 L293.05,81.04 L293.55,81.02 L294.04,81.01 L294.54,80.99 L295.03,80.98 L295.52,80.97 L296.02,80.95 L296.51,80.94 L297.01,80.93 L297.50,80.92 L298.00,80.91" stroke="#2a46f0" stroke-width="0.75" fill="none" />
<path d="M181.60,81.00 L182.14,81.24 L182.68,81.52 L183.23,81.81 L183.77,82.10 L184.31,82.40 L184.85,82.70 L185.39,83.00 L185.94,83.30 L186.48,83.60 L187.02,83.90 L187.56,84.20 L188.10,84.50 L188.64,84.80 L189.19,85.10 L189.73,85.40 L190.27,85.69 L190.81,85.99 L191.35,86.28 L191.90,86.57 L192.44,86.86 L192.98,87.14 L193.52,87.43 L194.06,87.71 L194.60,87.99 L195.15,88.27 L195.69,88.54 L196.23,88.82 L196.77,89.09 L197.31,89.36 L197.86,89.62 L198.40,89.89 L198.94,90.15 L199.48,90.41 L200.02,90.67 L200.57,90.92 L201.11,91.18 L201.65,91.43 L202.19,91.67 L202.73,91.92 L203.28,92.17 L203.82,92.41 L204.36,92.65 L204.90,92.88 L205.44,93.12 L205.98,93.35 L206.53,93.58 L207.07,93.81 L207.61,94.04 L208.15,94.26 L208.69,94.48 L209.24,94.70 L209.78,94.92 L210.32,95.13 L210.86,95.35 L211.40,95.56 L211.94,95.77 L212.49,95.98 L213.03,96.18 L213.57,96.38 L214.11,96.58 L214.65,96.78 L215.20,96.98 L215.74,97.17 L216.28,97.37 L216.82,97.56 L217.36,97.75 L217.91,97.93 L218.45,98.12 L218.99,98.30 L219.53,98.48 L220.07,98.66 L220.62,98.84 L221.16,99.02 L221.70,99.19 L222.24,99.36 L222.78,99.53 L223.32,99.70 L223.87,99.87 L224.41,100.03 L224.95,100.20 L225.49,100.36 L226.03,100.52 L226.58,100.68 L227.12,100.83 L227.66,100.99 L228.20,101.14 L228.74,101.29 L229.28,101.44 L229.83,101.59 L230.37,101.74 L230.91,101.88 L231.45,102.03 L231.99,102.17 L232.54,102.31 L233.08,102.45 L233.62,102.59 L234.16,102.72 L234.70,102.86 L235.25,102.99 L235.79,103.12 L236.33,103.25 L236.87,103.38 L237.41,103.51 L237.95,103.64 L238.50,103.76 L239.04,103.89 L239.58,104.01 L240.12,104.13 L240.66,104.25 L241.21,104.37 L241.75,104.49 L242.29,104.60 L242.83,104.72 L243.37,104.83 L243.92,104.94 L244.46,105.05 L245.00,105.16 L245.54,105.27 L246.08,105.38 L246.62,105.49 L247.17,105.59 L247.71,105.69 L248.25,105.80 L248.79,105.90 L249.33,106.00 L249.88,106.10 L250.42,106.20 L250.96,106.30 L251.50,106.39 L252.04,106.49 L252.59,106.58 L253.13,106.67 L253.67,106.77 L254.21,106.86 L254.75,106.95 L255.30,107.04 L255.84,107.13 L256.38,107.21 L256.92,107.30 L257.46,107.38 L258.00,107.47 L258.55,107.55 L259.09,107.64 L259.63,107.72 L260.17,107.80 L260.71,107.88 L261.26,107.96 L261.80,108.04 L262.34,108.11 L262.88,108.19 L263.42,108.26 L263.97,108.34 L264.51,108.41 L265.05,108.49 L265.59,108.56 L266.13,108.63 L266.67,108.70 L267.22,108.77 L267.76,108.84 L268.30,108.91 L268.30,82.00 L268.80,81.99 L269.29,81.97 L269.79,81.96 L270.28,81.95 L270.78,81.93 L271.27,81.91 L271.76,81.90 L272.26,81.88 L272.75,81.86 L273.25,81.84 L273.75,81.82 L274.24,81.80 L274.74,81.78 L275.23,81.75 L275.73,81.73 L276.22,81.70 L276.72,81.68 L277.21,81.65 L277.70,81.63 L278.20,81.60 L278.69,81.57 L279.19,81.54 L279.69,81.52 L280.18,81.49 L280.68,81.46 L281.17,81.43 L281.67,81.40 L282.16,81.38 L282.66,81.35 L283.15,81.32 L283.64,81.30 L284.14,81.27 L284.63,81.25 L285.13,81.22 L285.62,81.20 L286.12,81.17 L286.62,81.15 L287.11,81.13 L287.61,81.11 L288.10,81.09 L288.60,81.07 L289.09,81.06 L289.58,81.04 L290.08,81.02 L290.57,81.01 L291.07,80.99 L291.56,80.98 L292.06,80.97 L292.56,80.96 L293.05,80.95 L293.55,80.93 L294.04,80.93 L294.54,80.92 L295.03,80.91 L295.52,80.90 L296.02,80.89 L296.51,80.89 L297.01,80.88 L297.50,80.87 L298.00,80.87" stroke="#2a46f0" stroke-width="0.75" fill="none" />
<path d="M181.60,81.00 L182.14,81.04 L182.68,81.09 L183.23,81.14 L183.77,81.20 L184.31,81.25 L184.85,81.31 L185.39,81.36 L185.94,81.42 L186.48,81.48 L187.02,81.54 L187.56,81.60 L188.10,81.66 L188.64,81.72 L189.19,81.78 L189.73,81.84 L190.27,81.91 L190.81,81.97 L191.35,82.03 L191.90,82.09 L192.44,82.16 L192.98,82.22 L193.52,82.29 L194.06,82.35 L194.60,82.41 L195.15,82.48 L195.69,82.54 L196.23,82.61 L196.77,82.68 L197.31,82.74 L197.86,82.81 L198.40,82.87 L198.94,82.94 L199.48,83.01 L200.02,83.07 L200.57,83.14 L201.11,83.21 L201.65,83.28 L202.19,83.34 L202.73,83.41 L203.28,83.48 L203.82,83.55 L204.36,83.62 L204.90,83.69 L205.44,83.76 L205.98,83.82 L206.53,83.89 L207.07,83.96 L207.61,84.03 L208.15,84.10 L208.69,84.17 L209.24,84.24 L209.78,84.31 L210.32,84.38 L210.86,84.45 L211.40,84.52 L211.94,84.59 L212.49,84.66 L213.03,84.73 L213.57,84.80 L214.11,84.88 L214.65,84.95 L215.20,85.02 L215.74,85.09 L216.28,85.16 L216.82,85.23 L217.36,85.30 L217.91,85.38 L218.45,85.45 L218.99,85.52 L219.53,85.59 L220.07,85.66 L220.62,85.74 L221.16,85.81 L221.70,85.88 L222.24,85.95 L222.78,86.03 L223.32,86.10 L223.87,86.17 L224.41,86.25 L224.95,86.32 L225.49,86.39 L226.03,86.46 L226.58,86.54 L227.12,86.61 L227.66,86.69 L228.20,86.76 L228.74,86.83 L229.28,86.91 L229.83,86.98 L230.37,87.05 L230.91,87.13 L231.45,87.20 L231.99,87.28 L232.54,87.35 L233.08,87.42 L233.62,87.50 L234.16,87.57 L234.70,87.65 L235.25,87.72 L235.79,87.80 L236.33,87.87 L236.87,87.95 L237.41,88.02 L237.95,88.10 L238.50,88.17 L239.04,88.25 L239.58,88.32 L240.12,88.40 L240.66,88.47 L241.21,88.55 L241.75,88.62 L242.29,88.70 L242.83,88.78 L243.37,88.85 L243.92,88.93 L244.46,89.00 L245.00,89.08 L245.54,89.16 L246.08,89.23 L246.62,89.31 L247.17,89.38 L247.71,89.46 L248.25,89.54 L248.79,89.61 L249.33,89.69 L249.88,89.77 L250.42,89.84 L250.96,89.92 L251.50,90.00 L252.04,90.07 L252.59,90.15 L253.13,90.23 L253.67,90.30 L254.21,90.38 L254.75,90.46 L255.30,90.53 L255.84,90.61 L256.38,90.69 L256.92,90.77 L257.46,90.84 L258.00,90.92 L258.55,91.00 L259.09,91.07 L259.63,91.15 L260.17,91.23 L260.71,91.31 L261.26,91.39 L261.80,91.46 L262.34,91.54 L262.88,91.62 L263.42,91.70 L263.97,91.77 L264.51,91.85 L265.05,91.93 L265.59,92.01 L266.13,92.09 L266.67,92.17 L267.22,92.24 L267.76,92.32 L268.30,92.40 L268.30,81.40 L268.80,81.39 L269.29,81.39 L269.79,81.38 L270.28,81.37 L270.78,81.37 L271.27,81.36 L271.76,81.35 L272.26,81.34 L272.75,81.33 L273.25,81.32 L273.75,81.31 L274.24,81.30 L274.74,81.29 L275.23,81.28 L275.73,81.26 L276.22,81.25 L276.72,81.24 L277.21,81.23 L277.70,81.21 L278.20,81.20 L278.69,81.19 L279.19,81.17 L279.69,81.16 L280.18,81.14 L280.68,81.13 L281.17,81.12 L281.67,81.10 L282.16,81.09 L282.66,81.07 L283.15,81.06 L283.64,81.05 L284.14,81.04 L284.63,81.02 L285.13,81.01 L285.62,81.00 L286.12,80.99 L286.62,80.98 L287.11,80.97 L287.61,80.96 L288.10,80.95 L288.60,80.94 L289.09,80.93 L289.58,80.92 L290.08,80.91 L290.57,80.90 L291.07,80.90 L291.56,80.89 L292.06,80.88 L292.56,80.88 L293.05,80.87 L293.55,80.87 L294.04,80.86 L294.54,80.86 L295.03,80.85 L295.52,80.85 L296.02,80.85 L296.51,80.84 L297.01,80.84 L297.50,80.84 L298.00,80.83" stroke="#2a46f0" stroke-width="0.75" fill="none" />
<path d="M181.60,81.00 L182.14,81.00 L182.68,81.01 L183.23,81.01 L183.77,81.02 L184.31,81.03 L184.85,81.03 L185.39,81.04 L185.94,81.05 L186.48,81.06 L187.02,81.07 L187.56,81.07 L188.10,81.08 L188.64,81.09 L189.19,81.10 L189.73,81.11 L190.27,81.12 L190.81,81.13 L191.35,81.14 L191.90,81.15 L192.44,81.16 L192.98,81.17 L193.52,81.18 L194.06,81.19 L194.60,81.20 L195.15,81.21 L195.69,81.23 L196.23,81.24 L196.77,81.25 L197.31,81.26 L197.86,81.27 L198.40,81.28 L198.94,81.30 L199.48,81.31 L200.02,81.32 L200.57,81.33 L201.11,81.35 L201.65,81.36 L202.19,81.37 L202.73,81.38 L203.28,81.40 L203.82,81.41 L204.36,81.42 L204.90,81.43 L205.44,81.45 L205.98,81.46 L206.53,81.47 L207.07,81.49 L207.61,81.50 L208.15,81.52 L208.69,81.53 L209.24,81.54 L209.78,81.56 L210.32,81.57 L210.86,81.58 L211.40,81.60 L211.94,81.61 L212.49,81.63 L213.03,81.64 L213.57,81.66 L214.11,81.67 L214.65,81.69 L215.20,81.70 L215.74,81.71 L216.28,81.73 L216.82,81.74 L217.36,81.76 L217.91,81.77 L218.45,81.79 L218.99,81.80 L219.53,81.82 L220.07,81.83 L220.62,81.85 L221.16,81.87 L221.70,81.88 L222.24,81.90 L222.78,81.91 L223.32,81.93 L223.87,81.94 L224.41,81.96 L224.95,81.97 L225.49,81.99 L226.03,82.01 L226.58,82.02 L227.12,82.04 L227.66,82.05 L228.20,82.07 L228.74,82.09 L229.28,82.10 L229.83,82.12 L230.37,82.14 L230.91,82.15 L231.45,82.17 L231.99,82.19 L232.54,82.20 L233.08,82.22 L233.62,82.24 L234.16,82.25 L234.70,82.27 L235.25,82.29 L235.79,82.30 L236.33,82.32 L236.87,82.34 L237.41,82.35 L237.95,82.37 L238.50,82.39 L239.04,82.41 L239.58,82.42 L240.12,82.44 L240.66,82.46 L241.21,82.47 L241.75,82.49 L242.29,82.51 L242.83,82.53 L243.37,82.54 L243.92,82.56 L244.46,82.58 L245.00,82.60 L245.54,82.62 L246.08,82.63 L246.62,82.65 L247.17,82.67 L247.71,82.69 L248.25,82.71 L248.79,82.72 L249.33,82.74 L249.88,82.76 L250.42,82.78 L250.96,82.80 L251.50,82.81 L252.04,82.83 L252.59,82.85 L253.13,82.87 L253.67,82.89 L254.21,82.91 L254.75,82.92 L255.30,82.94 L255.84,82.96 L256.38,82.98 L256.92,83.00 L257.46,83.02 L258.00,83.04 L258.55,83.06 L259.09,83.07 L259.63,83.09 L260.17,83.11 L260.71,83.13 L261.26,83.15 L261.80,83.17 L262.34,83.19 L262.88,83.21 L263.42,83.23 L263.97,83.25 L264.51,83.26 L265.05,83.28 L265.59,83.30 L266.13,83.32 L266.67,83.34 L267.22,83.36 L267.76,83.38 L268.30,83.40 L268.30,81.00 L268.80,81.00 L269.29,81.00 L269.79,80.99 L270.28,80.99 L270.78,80.99 L271.27,80.99 L271.76,80.98 L272.26,80.98 L272.75,80.98 L273.25,80.97 L273.75,80.97 L274.24,80.97 L274.74,80.96 L275.23,80.96 L275.73,80.95 L276.22,80.95 L276.72,80.95 L277.21,80.94 L277.70,80.94 L278.20,80.93 L278.69,80.93 L279.19,80.92 L279.69,80.92 L280.18,80.91 L280.68,80.91 L281.17,80.91 L281.67,80.90 L282.16,80.90 L282.66,80.89 L283.15,80.89 L283.64,80.88 L284.14,80.88 L284.63,80.87 L285.13,80.87 L285.62,80.87 L286.12,80.86 L286.62,80.86 L287.11,80.86 L287.61,80.85 L288.10,80.85 L288.60,80.85 L289.09,80.84 L289.58,80.84 L290.08,80.84 L290.57,80.83 L291.07,80.83 L291.56,80.83 L292.06,80.83 L292.56,80.83 L293.05,80.82 L293.55,80.82 L294.04,80.82 L294.54,80.82 L295.03,80.82 L295.52,80.82 L296.02,80.82 L296.51,80.81 L297.01,80.81 L297.50,80.81 L298.00,80.81" stroke="#2a46f0" stroke-width="0.75" fill="none" />
<path d="M181.60,81.00 L182.14,81.00 L182.68,81.01 L183.23,81.01 L183.77,81.01 L184.31,81.02 L184.85,81.02 L185.39,81.02 L185.94,81.03 L186.48,81.03 L187.02,81.03 L187.56,81.03 L188.10,81.04 L188.64,81.04 L189.19,81.04 L189.73,81.05 L190.27,81.05 L190.81,81.05 L191.35,81.06 L191.90,81.06 L192.44,81.06 L192.98,81.07 L193.52,81.07 L194.06,81.07 L194.60,81.08 L195.15,81.08 L195.69,81.08 L196.23,81.08 L196.77,81.09 L197.31,81.09 L197.86,81.09 L198.40,81.10 L198.94,81.10 L199.48,81.10 L200.02,81.11 L200.57,81.11 L201.11,81.11 L201.65,81.12 L202.19,81.12 L202.73,81.12 L203.28,81.12 L203.82,81.13 L204.36,81.13 L204.90,81.13 L205.44,81.14 L205.98,81.14 L206.53,81.14 L207.07,81.15 L207.61,81.15 L208.15,81.15 L208.69,81.16 L209.24,81.16 L209.78,81.16 L210.32,81.17 L210.86,81.17 L211.40,81.17 L211.94,81.17 L212.49,81.18 L213.03,81.18 L213.57,81.18 L214.11,81.19 L214.65,81.19 L215.20,81.19 L215.74,81.20 L216.28,81.20 L216.82,81.20 L217.36,81.21 L217.91,81.21 L218.45,81.21 L218.99,81.22 L219.53,81.22 L220.07,81.22 L220.62,81.22 L221.16,81.23 L221.70,81.23 L222.24,81.23 L222.78,81.24 L223.32,81.24 L223.87,81.24 L224.41,81.25 L224.95,81.25 L225.49,81.25 L226.03,81.26 L226.58,81.26 L227.12,81.26 L227.66,81.27 L228.20,81.27 L228.74,81.27 L229.28,81.28 L229.83,81.28 L230.37,81.28 L230.91,81.28 L231.45,81.29 L231.99,81.29 L232.54,81.29 L233.08,81.30 L233.62,81.30 L234.16,81.30 L234.70,81.31 L235.25,81.31 L235.79,81.31 L236.33,81.32 L236.87,81.32 L237.41,81.32 L237.95,81.33 L238.50,81.33 L239.04,81.33 L239.58,81.33 L240.12,81.34 L240.66,81.34 L241.21,81.34 L241.75,81.35 L242.29,81.35 L242.83,81.35 L243.37,81.36 L243.92,81.36 L244.46,81.36 L245.00,81.37 L245.54,81.37 L246.08,81.37 L246.62,81.38 L247.17,81.38 L247.71,81.38 L248.25,81.38 L248.79,81.39 L249.33,81.39 L249.88,81.39 L250.42,81.40 L250.96,81.40 L251.50,81.40 L252.04,81.41 L252.59,81.41 L253.13,81.41 L253.67,81.42 L254.21,81.42 L254.75,81.42 L255.30,81.42 L255.84,81.43 L256.38,81.43 L256.92,81.43 L257.46,81.44 L258.00,81.44 L258.55,81.44 L259.09,81.45 L259.63,81.45 L260.17,81.45 L260.71,81.46 L261.26,81.46 L261.80,81.46 L262.34,81.47 L262.88,81.47 L263.42,81.47 L263.97,81.47 L264.51,81.48 L265.05,81.48 L265.59,81.48 L266.13,81.49 L266.67,81.49 L267.22,81.49 L267.76,81.50 L268.30,81.50 L268.30,80.80 L268.80,80.80 L269.29,80.80 L269.79,80.80 L270.28,80.80 L270.78,80.80 L271.27,80.80 L271.76,80.80 L272.26,80.80 L272.75,80.80 L273.25,80.80 L273.75,80.80 L274.24,80.80 L274.74,80.80 L275.23,80.80 L275.73,80.80 L276.22,80.80 L276.72,80.80 L277.21,80.80 L277.70,80.80 L278.20,80.80 L278.69,80.80 L279.19,80.80 L279.69,80.80 L280.18,80.80 L280.68,80.80 L281.17,80.80 L281.67,80.80 L282.16,80.80 L282.66,80.80 L283.15,80.80 L283.64,80.80 L284.14,80.80 L284.63,80.80 L285.13,80.80 L285.62,80.80 L286.12,80.80 L286.62,80.80 L287.11,80.80 L287.61,80.80 L288.10,80.80 L288.60,80.80 L289.09,80.80 L289.58,80.80 L290.08,80.80 L290.57,80.80 L291.07,80.80 L291.56,80.80 L292.06,80.80 L292.56,80.80 L293.05,80.80 L293.55,80.80 L294.04,80.80 L294.54,80.80 L295.03,80.80 L295.52,80.80 L296.02,80.80 L296.51,80.80 L297.01,80.80 L297.50,80.80 L298.00,80.80" stroke="#2a46f0" stroke-width="0.75" fill="none" />
<line x1="181.60" y1="80.50" x2="298.00" y2="80.50" stroke="#2a46f0" stroke-width="1.15"/>
<line x1="268.30" y1="81.00" x2="268.30" y2="149.30" stroke="#4a64f2" stroke-width="0.75"/>
<path d="M175.4,143.6 V151.3 H184.9" stroke="#777" stroke-width="1.0" fill="none" />
<text x="214.40" y="72.90" font-size="10.4" text-anchor="start" fill="#111" >NB5</text>
<circle cx="257.90" cy="68.90" r="2.9" fill="#0000ff"/>
<polygon points="262.1,111.1 259.1,116.8 265.0,116.8" fill="#000"/>
<path d="M338.90,67.60 L339.08,68.24 L339.25,68.87 L339.43,69.49 L339.61,70.11 L339.79,70.72 L339.96,71.32 L340.14,71.92 L340.32,72.51 L340.50,73.10 L340.67,73.68 L340.85,74.26 L341.03,74.83 L341.21,75.40 L341.38,75.96 L341.56,76.51 L341.74,77.07 L341.91,77.62 L342.09,78.17 L342.27,78.72 L342.45,79.28 L342.62,79.84 L342.80,80.40 L342.98,80.97 L343.16,81.55 L343.33,82.14 L343.51,82.75 L343.69,83.36 L343.86,83.99 L344.04,84.64 L344.22,85.30 L344.40,85.97 L344.57,86.66 L344.75,87.36 L344.93,88.07 L345.11,88.80 L345.28,89.54 L345.46,90.29 L345.64,91.04 L345.82,91.80 L345.99,92.57 L346.17,93.34 L346.35,94.11 L346.52,94.88 L346.70,95.66 L346.88,96.43 L347.06,97.19 L347.23,97.95 L347.41,98.70 L347.59,99.45 L347.77,100.19 L347.94,100.92 L348.12,101.64 L348.30,102.35 L348.47,103.04 L348.65,103.73 L348.83,104.41 L349.01,105.07 L349.18,105.72 L349.36,106.35 L349.54,106.98 L349.72,107.59 L349.89,108.19 L350.07,108.78 L350.25,109.35 L350.43,109.91 L350.60,110.46 L350.78,111.00 L350.96,111.52 L351.13,112.03 L351.31,112.53 L351.49,113.02 L351.67,113.50 L351.84,113.97 L352.02,114.43 L352.20,114.88 L352.38,115.32 L352.55,115.75 L352.73,116.17 L352.91,116.58 L353.08,116.98 L353.26,117.37 L353.44,117.76 L353.62,118.14 L353.79,118.51 L353.97,118.87 L354.15,119.22 L354.33,119.57 L354.50,119.91 L354.68,120.25 L354.86,120.58 L355.04,120.90 L355.21,121.22 L355.39,121.53 L355.57,121.83 L355.74,122.13 L355.92,122.43 L356.10,122.72 L356.28,123.01 L356.45,123.29 L356.63,123.56 L356.81,123.83 L356.99,124.10 L357.16,124.36 L357.34,124.62 L357.52,124.88 L357.69,125.13 L357.87,125.38 L358.05,125.62 L358.23,125.86 L358.40,126.10 L358.58,126.34 L358.76,126.57 L358.94,126.79 L359.11,127.02 L359.29,127.24 L359.47,127.46 L359.65,127.68 L359.82,127.89 L360.00,128.10 L360.20,128.33 L361.18,129.43 L362.16,130.47 L363.14,131.43 L364.12,132.34 L365.10,133.20 L366.09,134.01 L367.07,134.77 L368.05,135.49 L369.03,136.17 L370.01,136.81 L370.99,137.42 L371.97,137.99 L372.95,138.54 L373.93,139.05 L374.91,139.54 L375.89,140.00 L376.88,140.44 L377.86,140.85 L378.84,141.24 L379.82,141.61 L380.80,141.96 L381.78,142.29 L382.76,142.61 L383.74,142.90 L384.72,143.19 L385.70,143.45 L386.68,143.70 L387.67,143.94 L388.65,144.17 L389.63,144.38 L390.61,144.58 L391.59,144.78 L392.57,144.96 L393.55,145.13 L394.53,145.29 L395.51,145.45 L396.49,145.59 L397.47,145.73 L398.46,145.86 L399.44,145.99 L400.42,146.10 L401.40,146.21 L402.38,146.32 L403.36,146.42 L404.34,146.51 L405.32,146.60 L406.30,146.69 L407.28,146.77 L408.26,146.84 L409.24,146.91 L410.23,146.98 L411.21,147.04 L412.19,147.11 L413.17,147.16 L414.15,147.22 L415.13,147.27 L416.11,147.32 L417.09,147.36 L418.07,147.41 L419.05,147.45 L420.03,147.49 L421.02,147.52 L422.00,147.56 L422.98,147.59 L423.96,147.62 L424.94,147.65 L425.92,147.68 L426.90,147.71 L427.88,147.73 L428.86,147.76 L429.84,147.78 L430.82,147.80 L431.81,147.82 L432.79,147.84 L433.77,147.86 L434.75,147.88 L435.73,147.89 L436.71,147.91 L437.69,147.92 L438.67,147.94 L439.65,147.95 L440.63,147.96 L441.61,147.98 L442.60,147.99 L443.58,148.00 L444.56,148.01 L445.54,148.02 L446.52,148.03 L447.50,148.03" stroke="#222" stroke-width="0.95" fill="none" />
<path d="M334.7,67.5 H338.9 L338.90,67.60 L339.08,68.21 L339.25,69.10 L339.43,70.19 L339.61,71.41 L339.79,72.74 L339.96,74.15 L340.14,75.62 L340.32,77.12 L340.50,78.66 L340.67,80.21 L340.85,81.77 L341.03,83.32 L341.21,84.87 L341.38,86.41 L341.56,87.93 L341.74,89.42 L341.91,90.90 L342.09,92.34 L342.27,93.76 L342.45,95.15 L342.62,96.50 L342.80,97.83 L342.98,99.12 L343.16,100.37 L343.33,101.60 L343.51,102.79 L343.69,103.95 L343.86,105.07 L344.04,106.16 L344.22,107.22 L344.40,108.25 L344.57,109.24 L344.75,110.21 L344.93,111.14 L345.11,112.05 L345.28,112.92 L345.46,113.77 L345.64,114.60 L345.82,115.39 L345.99,116.17 L346.17,116.91 L346.35,117.64 L346.52,118.34 L346.70,119.01 L346.88,119.67 L347.06,120.30 L347.23,120.92 L347.41,121.52 L347.59,122.09 L347.77,122.65 L347.94,123.19 L348.12,123.71 L348.30,124.22 L348.47,124.71 L348.65,125.19 L348.83,125.65 L349.01,126.10 L349.18,126.54 L349.36,126.96 L349.54,127.37 L349.72,127.76 L349.89,128.15 L350.07,128.52 L350.25,128.88 L350.43,129.24 L350.60,129.58 L350.78,129.91 L350.96,130.24 L351.13,130.55 L351.31,130.86 L351.49,131.15 L351.67,131.44 L351.84,131.72 L352.02,132.00 L352.20,132.27 L352.38,132.53 L352.55,132.78 L352.73,133.03 L352.91,133.27 L353.08,133.50 L353.26,133.73 L353.44,133.96 L353.62,134.18 L353.79,134.39 L353.97,134.60 L354.15,134.80 L354.33,135.00 L354.50,135.19 L354.68,135.38 L354.86,135.57 L355.04,135.75 L355.21,135.93 L355.39,136.10 L355.57,136.27 L355.74,136.44 L355.92,136.60 L356.10,136.76 L356.28,136.92 L356.45,137.07 L356.63,137.23 L356.81,137.37 L356.99,137.52 L357.16,137.66 L357.34,137.80 L357.52,137.94 L357.69,138.07 L357.87,138.20 L358.05,138.33 L358.23,138.46 L358.40,138.58 L358.58,138.71 L358.76,138.83 L358.94,138.95 L359.11,139.06 L359.29,139.18 L359.47,139.29 L359.65,139.40 L359.82,139.51 L360.00,139.62 L360.20,139.74 L361.18,140.29 L362.16,140.80 L363.14,141.27 L364.12,141.71 L365.10,142.11 L366.09,142.49 L367.07,142.84 L368.05,143.16 L369.03,143.47 L370.01,143.75 L370.99,144.02 L371.97,144.27 L372.95,144.50 L373.93,144.72 L374.91,144.93 L375.89,145.12 L376.88,145.30 L377.86,145.47 L378.84,145.63 L379.82,145.78 L380.80,145.92 L381.78,146.06 L382.76,146.18 L383.74,146.30 L384.72,146.41 L385.70,146.51 L386.68,146.61 L387.67,146.70 L388.65,146.78 L389.63,146.86 L390.61,146.94 L391.59,147.01 L392.57,147.07 L393.55,147.14 L394.53,147.20 L395.51,147.25 L396.49,147.30 L397.47,147.35 L398.46,147.40 L399.44,147.44 L400.42,147.48 L401.40,147.52 L402.38,147.55 L403.36,147.59 L404.34,147.62 L405.32,147.65 L406.30,147.68 L407.28,147.70 L408.26,147.73 L409.24,147.75 L410.23,147.77 L411.21,147.79 L412.19,147.81 L413.17,147.83 L414.15,147.85 L415.13,147.86 L416.11,147.88 L417.09,147.89 L418.07,147.90 L419.05,147.92 L420.03,147.93 L421.02,147.94 L422.00,147.95 L422.98,147.96 L423.96,147.97 L424.94,147.98 L425.92,147.98 L426.90,147.99 L427.88,148.00 L428.86,148.00 L429.84,148.01 L430.82,148.02 L431.81,148.02 L432.79,148.03 L433.77,148.03 L434.75,148.04 L435.73,148.04 L436.71,148.04 L437.69,148.05 L438.67,148.05 L439.65,148.06 L440.63,148.06 L441.61,148.06 L442.60,148.06 L443.58,148.07 L444.56,148.07 L445.54,148.07 L446.52,148.07 L447.50,148.08" stroke="#2a46f0" stroke-width="0.95" fill="none" />
<line x1="338.40" y1="67.50" x2="338.40" y2="72.00" stroke="#2a46f0" stroke-width="0.8"/>
<path d="M338.2,146.3 V151.2 H350.5" stroke="#444" stroke-width="1.0" fill="none" />
<path d="M382.10,86.40 L382.43,86.39 L382.77,86.37 L383.10,86.35 L383.43,86.33 L383.77,86.31 L384.10,86.29 L384.43,86.26 L384.77,86.23 L385.10,86.20 L385.43,86.17 L385.76,86.14 L386.10,86.10 L386.43,86.06 L386.76,86.03 L387.10,85.99 L387.43,85.95 L387.76,85.90 L388.10,85.86 L388.43,85.82 L388.76,85.77 L389.10,85.72 L389.43,85.68 L389.76,85.63 L390.10,85.58 L390.43,85.53 L390.76,85.48 L391.10,85.43 L391.43,85.38 L391.76,85.32 L392.09,85.27 L392.43,85.20 L392.76,85.13 L393.09,85.06 L393.43,84.99 L393.76,84.91 L394.09,84.83 L394.43,84.74 L394.76,84.66 L395.09,84.57 L395.43,84.47 L395.76,84.38 L396.09,84.28 L396.43,84.18 L396.76,84.08 L397.09,83.98 L397.43,83.87 L397.76,83.77 L398.09,83.66 L398.43,83.56 L398.76,83.45 L399.09,83.34 L399.42,83.23 L399.76,83.12 L400.09,83.01 L400.42,82.91 L400.76,82.80 L401.09,82.69 L401.42,82.59 L401.76,82.48 L402.09,82.38 L402.42,82.27 L402.76,82.17 L403.09,82.07 L403.42,81.97 L403.76,81.88 L404.09,81.78 L404.42,81.69 L404.76,81.60 L405.09,81.51 L405.42,81.42 L405.75,81.33 L406.09,81.24 L406.42,81.15 L406.75,81.05 L407.09,80.96 L407.42,80.87 L407.75,80.78 L408.09,80.68 L408.42,80.59 L408.75,80.50 L409.09,80.40 L409.42,80.31 L409.75,80.22 L410.09,80.13 L410.42,80.04 L410.75,79.95 L411.09,79.86 L411.42,79.77 L411.75,79.68 L412.08,79.59 L412.42,79.50 L412.75,79.42 L413.08,79.33 L413.42,79.25 L413.75,79.17 L414.08,79.08 L414.42,79.00 L414.75,78.92 L415.08,78.84 L415.42,78.77 L415.75,78.69 L416.08,78.62 L416.42,78.54 L416.75,78.47 L417.08,78.40 L417.42,78.34 L417.75,78.27 L418.08,78.21 L418.42,78.14 L418.75,78.08 L419.08,78.01 L419.41,77.95 L419.75,77.89 L420.08,77.82 L420.41,77.76 L420.75,77.70 L421.08,77.64 L421.41,77.58 L421.75,77.53 L422.08,77.47 L422.41,77.41 L422.75,77.35 L423.08,77.30 L423.41,77.25 L423.75,77.19 L424.08,77.14 L424.41,77.09 L424.75,77.04 L425.08,76.99 L425.41,76.94 L425.74,76.90 L426.08,76.85 L426.41,76.81 L426.74,76.76 L427.08,76.72 L427.41,76.68 L427.74,76.64 L428.08,76.60 L428.41,76.57 L428.74,76.53 L429.08,76.49 L429.41,76.46 L429.74,76.43 L430.08,76.39 L430.41,76.36 L430.74,76.33 L431.08,76.30 L431.41,76.27 L431.74,76.24 L432.07,76.21 L432.41,76.18 L432.74,76.15 L433.07,76.13 L433.41,76.10 L433.74,76.07 L434.07,76.05 L434.41,76.02 L434.74,75.99 L435.07,75.97 L435.41,75.94 L435.74,75.92 L436.07,75.89 L436.41,75.87 L436.74,75.84 L437.07,75.82 L437.41,75.79 L437.74,75.77 L438.07,75.75 L438.41,75.72 L438.74,75.70 L439.07,75.67 L439.40,75.65 L439.74,75.62 L440.07,75.59 L440.40,75.57 L440.74,75.54 L441.07,75.52 L441.40,75.49 L441.74,75.47 L442.07,75.44 L442.40,75.42 L442.74,75.39 L443.07,75.37 L443.40,75.35 L443.74,75.32 L444.07,75.30 L444.40,75.27 L444.74,75.25 L445.07,75.23 L445.40,75.20 L445.73,75.18 L446.07,75.16 L446.40,75.13 L446.73,75.11 L447.07,75.09 L447.40,75.07 L447.73,75.04 L448.07,75.02 L448.40,75.00" stroke="#1a1a1a" stroke-width="1.25" fill="none" />
<path d="M382.10,83.20 L382.43,83.15 L382.77,83.11 L383.10,83.06 L383.43,83.01 L383.77,82.96 L384.10,82.91 L384.43,82.86 L384.77,82.81 L385.10,82.76 L385.43,82.71 L385.76,82.65 L386.10,82.60 L386.43,82.55 L386.76,82.49 L387.10,82.44 L387.43,82.38 L387.76,82.33 L388.10,82.27 L388.43,82.21 L388.76,82.16 L389.10,82.10 L389.43,82.04 L389.76,81.98 L390.10,81.92 L390.43,81.86 L390.76,81.80 L391.10,81.74 L391.43,81.68 L391.76,81.61 L392.09,81.55 L392.43,81.48 L392.76,81.41 L393.09,81.34 L393.43,81.26 L393.76,81.19 L394.09,81.12 L394.43,81.04 L394.76,80.96 L395.09,80.88 L395.43,80.80 L395.76,80.72 L396.09,80.64 L396.43,80.56 L396.76,80.48 L397.09,80.40 L397.43,80.32 L397.76,80.23 L398.09,80.15 L398.43,80.07 L398.76,79.99 L399.09,79.91 L399.42,79.83 L399.76,79.75 L400.09,79.67 L400.42,79.60 L400.76,79.52 L401.09,79.45 L401.42,79.37 L401.76,79.30 L402.09,79.23 L402.42,79.16 L402.76,79.10 L403.09,79.03 L403.42,78.97 L403.76,78.91 L404.09,78.85 L404.42,78.80 L404.76,78.74 L405.09,78.69 L405.42,78.64 L405.75,78.58 L406.09,78.53 L406.42,78.48 L406.75,78.43 L407.09,78.38 L407.42,78.34 L407.75,78.29 L408.09,78.24 L408.42,78.19 L408.75,78.15 L409.09,78.10 L409.42,78.06 L409.75,78.01 L410.09,77.97 L410.42,77.92 L410.75,77.88 L411.09,77.84 L411.42,77.80 L411.75,77.75 L412.08,77.71 L412.42,77.67 L412.75,77.63 L413.08,77.59 L413.42,77.55 L413.75,77.52 L414.08,77.48 L414.42,77.44 L414.75,77.40 L415.08,77.37 L415.42,77.33 L415.75,77.29 L416.08,77.26 L416.42,77.22 L416.75,77.19 L417.08,77.15 L417.42,77.12 L417.75,77.08 L418.08,77.05 L418.42,77.02 L418.75,76.99 L419.08,76.95 L419.41,76.92 L419.75,76.89 L420.08,76.86 L420.41,76.83 L420.75,76.80 L421.08,76.77 L421.41,76.74 L421.75,76.71 L422.08,76.68 L422.41,76.65 L422.75,76.62 L423.08,76.60 L423.41,76.57 L423.75,76.54 L424.08,76.51 L424.41,76.49 L424.75,76.46 L425.08,76.43 L425.41,76.41 L425.74,76.38 L426.08,76.35 L426.41,76.33 L426.74,76.30 L427.08,76.28 L427.41,76.25 L427.74,76.22 L428.08,76.20 L428.41,76.17 L428.74,76.15 L429.08,76.12 L429.41,76.10 L429.74,76.07 L430.08,76.05 L430.41,76.02 L430.74,76.00 L431.08,75.97 L431.41,75.95 L431.74,75.92 L432.07,75.90 L432.41,75.87 L432.74,75.85 L433.07,75.82 L433.41,75.80 L433.74,75.77 L434.07,75.75 L434.41,75.73 L434.74,75.70 L435.07,75.68 L435.41,75.65 L435.74,75.63 L436.07,75.61 L436.41,75.58 L436.74,75.56 L437.07,75.53 L437.41,75.51 L437.74,75.49 L438.07,75.46 L438.41,75.44 L438.74,75.42 L439.07,75.40 L439.40,75.37 L439.74,75.35 L440.07,75.33 L440.40,75.30 L440.74,75.28 L441.07,75.26 L441.40,75.24 L441.74,75.22 L442.07,75.19 L442.40,75.17 L442.74,75.15 L443.07,75.13 L443.40,75.11 L443.74,75.09 L444.07,75.06 L444.40,75.04 L444.74,75.02 L445.07,75.00 L445.40,74.98 L445.73,74.96 L446.07,74.94 L446.40,74.92 L446.73,74.90 L447.07,74.88 L447.40,74.86 L447.73,74.84 L448.07,74.82 L448.40,74.80" stroke="#2040f0" stroke-width="1.25" fill="none" />
<path d="M373.5,84.3 V95.2 H396.1" stroke="#222" stroke-width="1.1" fill="none" />
<text x="413.00" y="68.80" font-size="10.4" text-anchor="start" fill="#111" >-40 mV</text>
<text x="407.40" y="139.90" font-size="10.4" text-anchor="start" fill="#111" >-150 mV</text>
<text x="465.20" y="11.00" font-size="15" text-anchor="start" fill="#000" font-weight="bold" >b</text>
<line x1="512.80" y1="38.50" x2="646.50" y2="38.50" stroke="#333" stroke-width="1.0"/>
<line x1="646.50" y1="38.50" x2="646.50" y2="146.40" stroke="#333" stroke-width="1.0"/>
<line x1="518.50" y1="36.30" x2="518.50" y2="38.50" stroke="#333" stroke-width="1.0"/>
<text x="518.50" y="33.40" font-size="10.4" text-anchor="middle" fill="#111" >-150</text>
<line x1="575.30" y1="36.30" x2="575.30" y2="38.50" stroke="#333" stroke-width="1.0"/>
<text x="575.30" y="33.40" font-size="10.4" text-anchor="middle" fill="#111" >-100</text>
<line x1="632.10" y1="36.30" x2="632.10" y2="38.50" stroke="#333" stroke-width="1.0"/>
<text x="632.10" y="33.40" font-size="10.4" text-anchor="middle" fill="#111" >-50</text>
<line x1="646.50" y1="40.60" x2="648.60" y2="40.60" stroke="#333" stroke-width="1.0"/>
<text x="650.20" y="44.30" font-size="10.4" text-anchor="start" fill="#111" >0</text>
<line x1="646.50" y1="83.00" x2="648.60" y2="83.00" stroke="#333" stroke-width="1.0"/>
<text x="650.20" y="86.70" font-size="10.4" text-anchor="start" fill="#111" >-100</text>
<line x1="646.50" y1="124.40" x2="648.60" y2="124.40" stroke="#333" stroke-width="1.0"/>
<text x="650.20" y="128.10" font-size="10.4" text-anchor="start" fill="#111" >-200</text>
<text x="580.00" y="22.20" font-size="10.9" text-anchor="middle" fill="#111" >V(mV)</text>
<text transform="translate(682.6,90.3) rotate(-90)" font-size="11.2" text-anchor="middle" fill="#111"><tspan>I</tspan><tspan font-size="7.5" dy="2.9">ss</tspan><tspan dy="-2.9"> (pA/pF)</tspan></text>
<line x1="518.50" y1="101.20" x2="518.50" y2="129.10" stroke="#000" stroke-width="1.2"/>
<line x1="515.90" y1="101.20" x2="521.10" y2="101.20" stroke="#000" stroke-width="1.2"/>
<line x1="515.90" y1="129.10" x2="521.10" y2="129.10" stroke="#000" stroke-width="1.2"/>
<line x1="535.54" y1="84.50" x2="535.54" y2="94.20" stroke="#000" stroke-width="1.2"/>
<line x1="532.94" y1="84.50" x2="538.14" y2="84.50" stroke="#000" stroke-width="1.2"/>
<line x1="532.94" y1="94.20" x2="538.14" y2="94.20" stroke="#000" stroke-width="1.2"/>
<line x1="552.58" y1="65.50" x2="552.58" y2="72.50" stroke="#000" stroke-width="1.2"/>
<line x1="549.98" y1="65.50" x2="555.18" y2="65.50" stroke="#000" stroke-width="1.2"/>
<line x1="549.98" y1="72.50" x2="555.18" y2="72.50" stroke="#000" stroke-width="1.2"/>
<line x1="569.62" y1="51.80" x2="569.62" y2="56.40" stroke="#000" stroke-width="1.2"/>
<line x1="567.02" y1="51.80" x2="572.22" y2="51.80" stroke="#000" stroke-width="1.2"/>
<line x1="567.02" y1="56.40" x2="572.22" y2="56.40" stroke="#000" stroke-width="1.2"/>
<line x1="586.66" y1="45.30" x2="586.66" y2="49.30" stroke="#000" stroke-width="1.2"/>
<line x1="584.06" y1="45.30" x2="589.26" y2="45.30" stroke="#000" stroke-width="1.2"/>
<line x1="584.06" y1="49.30" x2="589.26" y2="49.30" stroke="#000" stroke-width="1.2"/>
<path d="M518.50,115.60 L535.54,89.10 L552.58,69.10 L569.62,54.10 L586.66,47.30 L603.70,44.50 L620.74,42.90 L637.78,42.30 L646.50,42.20" stroke="#000" stroke-width="1.6" fill="none" />
<circle cx="518.50" cy="115.60" r="2.65" fill="#000"/>
<circle cx="535.54" cy="89.10" r="2.65" fill="#000"/>
<circle cx="552.58" cy="69.10" r="2.65" fill="#000"/>
<circle cx="569.62" cy="54.10" r="2.65" fill="#000"/>
<circle cx="586.66" cy="47.30" r="2.65" fill="#000"/>
<circle cx="603.70" cy="44.50" r="2.65" fill="#000"/>
<circle cx="620.74" cy="42.90" r="2.65" fill="#000"/>
<circle cx="637.78" cy="42.30" r="2.65" fill="#000"/>
<line x1="518.50" y1="104.30" x2="518.50" y2="142.40" stroke="#2042f5" stroke-width="1.2"/>
<line x1="515.90" y1="104.30" x2="521.10" y2="104.30" stroke="#2042f5" stroke-width="1.2"/>
<line x1="515.90" y1="142.40" x2="521.10" y2="142.40" stroke="#2042f5" stroke-width="1.2"/>
<line x1="535.54" y1="95.40" x2="535.54" y2="112.90" stroke="#2042f5" stroke-width="1.2"/>
<line x1="532.94" y1="95.40" x2="538.14" y2="95.40" stroke="#2042f5" stroke-width="1.2"/>
<line x1="532.94" y1="112.90" x2="538.14" y2="112.90" stroke="#2042f5" stroke-width="1.2"/>
<line x1="552.58" y1="76.30" x2="552.58" y2="88.30" stroke="#2042f5" stroke-width="1.2"/>
<line x1="549.98" y1="76.30" x2="555.18" y2="76.30" stroke="#2042f5" stroke-width="1.2"/>
<line x1="549.98" y1="88.30" x2="555.18" y2="88.30" stroke="#2042f5" stroke-width="1.2"/>
<line x1="569.62" y1="60.60" x2="569.62" y2="65.80" stroke="#2042f5" stroke-width="1.2"/>
<line x1="567.02" y1="60.60" x2="572.22" y2="60.60" stroke="#2042f5" stroke-width="1.2"/>
<line x1="567.02" y1="65.80" x2="572.22" y2="65.80" stroke="#2042f5" stroke-width="1.2"/>
<line x1="586.66" y1="49.60" x2="586.66" y2="54.00" stroke="#2042f5" stroke-width="1.2"/>
<line x1="584.06" y1="49.60" x2="589.26" y2="49.60" stroke="#2042f5" stroke-width="1.2"/>
<line x1="584.06" y1="54.00" x2="589.26" y2="54.00" stroke="#2042f5" stroke-width="1.2"/>
<path d="M518.50,123.40 L535.54,104.60 L552.58,82.30 L569.62,63.00 L586.66,51.80 L603.70,47.00 L620.74,44.50 L637.78,43.20 L646.50,42.80" stroke="#2042f5" stroke-width="1.6" fill="none" />
<circle cx="518.50" cy="123.40" r="2.65" fill="#2042f5"/>
<circle cx="535.54" cy="104.60" r="2.65" fill="#2042f5"/>
<circle cx="552.58" cy="82.30" r="2.65" fill="#2042f5"/>
<circle cx="569.62" cy="63.00" r="2.65" fill="#2042f5"/>
<circle cx="586.66" cy="51.80" r="2.65" fill="#2042f5"/>
<circle cx="603.70" cy="47.00" r="2.65" fill="#2042f5"/>
<circle cx="620.74" cy="44.50" r="2.65" fill="#2042f5"/>
<circle cx="637.78" cy="43.20" r="2.65" fill="#2042f5"/>
<text x="-0.80" y="199.90" font-size="15" text-anchor="start" fill="#000" font-weight="bold" >c</text>
<line x1="62.10" y1="227.80" x2="62.10" y2="334.00" stroke="#333" stroke-width="1.0"/>
<line x1="62.10" y1="334.00" x2="196.20" y2="334.00" stroke="#333" stroke-width="1.0"/>
<line x1="60.00" y1="230.50" x2="62.10" y2="230.50" stroke="#333" stroke-width="1.0"/>
<text x="58.20" y="234.10" font-size="10.4" text-anchor="end" fill="#111" >1.0</text>
<line x1="60.00" y1="280.70" x2="62.10" y2="280.70" stroke="#333" stroke-width="1.0"/>
<text x="58.20" y="284.30" font-size="10.4" text-anchor="end" fill="#111" >0.5</text>
<line x1="60.00" y1="330.90" x2="62.10" y2="330.90" stroke="#333" stroke-width="1.0"/>
<text x="58.20" y="334.50" font-size="10.4" text-anchor="end" fill="#111" >0.0</text>
<line x1="63.40" y1="334.00" x2="63.40" y2="336.30" stroke="#333" stroke-width="1.0"/>
<text x="63.40" y="346.60" font-size="10.4" text-anchor="middle" fill="#111" >-150</text>
<line x1="123.60" y1="334.00" x2="123.60" y2="336.30" stroke="#333" stroke-width="1.0"/>
<text x="123.60" y="346.60" font-size="10.4" text-anchor="middle" fill="#111" >-100</text>
<line x1="183.80" y1="334.00" x2="183.80" y2="336.30" stroke="#333" stroke-width="1.0"/>
<text x="183.80" y="346.60" font-size="10.4" text-anchor="middle" fill="#111" >-50</text>
<text x="128.80" y="362.20" font-size="10.7" text-anchor="middle" fill="#111" >V(mV)</text>
<text transform="translate(34.2,280.6) rotate(-90)" font-size="11.0" text-anchor="middle" fill="#111"><tspan>G/G</tspan><tspan font-size="11.8" dy="5.9">max</tspan></text>
<path d="M63.40,228.13 L64.01,228.18 L64.61,228.23 L65.22,228.28 L65.83,228.34 L66.44,228.40 L67.04,228.47 L67.65,228.53 L68.26,228.60 L68.87,228.68 L69.47,228.76 L70.08,228.84 L70.69,228.92 L71.30,229.02 L71.90,229.11 L72.51,229.21 L73.12,229.32 L73.73,229.43 L74.33,229.54 L74.94,229.67 L75.55,229.79 L76.16,229.93 L76.76,230.07 L77.37,230.22 L77.98,230.38 L78.59,230.54 L79.19,230.71 L79.80,230.89 L80.41,231.08 L81.02,231.28 L81.62,231.49 L82.23,231.70 L82.84,231.93 L83.45,232.17 L84.05,232.42 L84.66,232.69 L85.27,232.96 L85.88,233.25 L86.48,233.55 L87.09,233.87 L87.70,234.20 L88.31,234.54 L88.91,234.90 L89.52,235.28 L90.13,235.67 L90.74,236.08 L91.34,236.51 L91.95,236.96 L92.56,237.43 L93.17,237.91 L93.77,238.42 L94.38,238.95 L94.99,239.50 L95.60,240.07 L96.20,240.66 L96.81,241.28 L97.42,241.92 L98.03,242.58 L98.63,243.27 L99.24,243.99 L99.85,244.72 L100.46,245.49 L101.06,246.28 L101.67,247.10 L102.28,247.94 L102.89,248.81 L103.49,249.71 L104.10,250.63 L104.71,251.58 L105.32,252.56 L105.92,253.56 L106.53,254.59 L107.14,255.65 L107.75,256.73 L108.35,257.83 L108.96,258.96 L109.57,260.11 L110.18,261.28 L110.78,262.47 L111.39,263.69 L112.00,264.92 L112.61,266.17 L113.21,267.43 L113.82,268.72 L114.43,270.01 L115.04,271.32 L115.64,272.64 L116.25,273.96 L116.86,275.29 L117.47,276.63 L118.07,277.97 L118.68,279.32 L119.29,280.66 L119.90,282.00 L120.50,283.34 L121.11,284.67 L121.72,286.00 L122.33,287.32 L122.93,288.62 L123.54,289.92 L124.15,291.20 L124.76,292.47 L125.36,293.72 L125.97,294.95 L126.58,296.16 L127.19,297.36 L127.79,298.53 L128.40,299.68 L129.01,300.81 L129.62,301.91 L130.22,302.99 L130.83,304.05 L131.44,305.08 L132.05,306.08 L132.65,307.06 L133.26,308.01 L133.87,308.93 L134.48,309.83 L135.08,310.70 L135.69,311.55 L136.30,312.36 L136.91,313.16 L137.51,313.92 L138.12,314.66 L138.73,315.38 L139.34,316.06 L139.94,316.73 L140.55,317.37 L141.16,317.99 L141.77,318.58 L142.37,319.15 L142.98,319.70 L143.59,320.23 L144.20,320.74 L144.80,321.22 L145.41,321.69 L146.02,322.14 L146.63,322.57 L147.23,322.98 L147.84,323.37 L148.45,323.75 L149.06,324.11 L149.66,324.46 L150.27,324.79 L150.88,325.10 L151.49,325.40 L152.09,325.69 L152.70,325.97 L153.31,326.23 L153.92,326.48 L154.52,326.72 L155.13,326.95 L155.74,327.17 L156.35,327.38 L156.95,327.58 L157.56,327.77 L158.17,327.95 L158.78,328.12 L159.38,328.28 L159.99,328.44 L160.60,328.59 L161.21,328.73 L161.81,328.86 L162.42,328.99 L163.03,329.11 L163.64,329.23 L164.24,329.34 L164.85,329.45 L165.46,329.55 L166.07,329.64 L166.67,329.73 L167.28,329.82 L167.89,329.90 L168.50,329.98 L169.10,330.05 L169.71,330.13 L170.32,330.19 L170.93,330.26 L171.53,330.32 L172.14,330.38 L172.75,330.43 L173.36,330.48 L173.96,330.53 L174.57,330.58 L175.18,330.62 L175.79,330.67 L176.39,330.71 L177.00,330.75 L177.61,330.78 L178.22,330.82 L178.82,330.85 L179.43,330.88 L180.04,330.91 L180.65,330.94 L181.25,330.97 L181.86,330.99 L182.47,331.02 L183.08,331.04 L183.68,331.06 L184.29,331.08 L184.90,331.10 L185.51,331.12 L186.11,331.14 L186.72,331.16 L187.33,331.17 L187.94,331.19 L188.54,331.20 L189.15,331.22 L189.76,331.23 L190.37,331.24 L190.97,331.26 L191.58,331.27 L192.19,331.28 L192.80,331.29 L193.40,331.30 L194.01,331.31 L194.62,331.32 L195.23,331.32 L195.83,331.33 L196.44,331.34" stroke="#000" stroke-width="1.7" fill="none" />
<path d="M63.40,231.22 L64.01,231.23 L64.61,231.25 L65.22,231.26 L65.83,231.27 L66.44,231.29 L67.04,231.30 L67.65,231.32 L68.26,231.34 L68.87,231.36 L69.47,231.37 L70.08,231.40 L70.69,231.42 L71.30,231.44 L71.90,231.46 L72.51,231.49 L73.12,231.52 L73.73,231.55 L74.33,231.58 L74.94,231.61 L75.55,231.64 L76.16,231.68 L76.76,231.72 L77.37,231.76 L77.98,231.80 L78.59,231.84 L79.19,231.89 L79.80,231.94 L80.41,232.00 L81.02,232.05 L81.62,232.11 L82.23,232.17 L82.84,232.24 L83.45,232.31 L84.05,232.39 L84.66,232.46 L85.27,232.55 L85.88,232.63 L86.48,232.73 L87.09,232.82 L87.70,232.93 L88.31,233.04 L88.91,233.15 L89.52,233.27 L90.13,233.40 L90.74,233.54 L91.34,233.68 L91.95,233.83 L92.56,233.99 L93.17,234.16 L93.77,234.33 L94.38,234.52 L94.99,234.72 L95.60,234.93 L96.20,235.14 L96.81,235.37 L97.42,235.62 L98.03,235.87 L98.63,236.14 L99.24,236.42 L99.85,236.72 L100.46,237.03 L101.06,237.36 L101.67,237.70 L102.28,238.07 L102.89,238.45 L103.49,238.85 L104.10,239.26 L104.71,239.70 L105.32,240.16 L105.92,240.64 L106.53,241.15 L107.14,241.68 L107.75,242.23 L108.35,242.80 L108.96,243.40 L109.57,244.03 L110.18,244.69 L110.78,245.37 L111.39,246.08 L112.00,246.81 L112.61,247.58 L113.21,248.38 L113.82,249.20 L114.43,250.06 L115.04,250.95 L115.64,251.86 L116.25,252.81 L116.86,253.79 L117.47,254.79 L118.07,255.83 L118.68,256.90 L119.29,258.00 L119.90,259.12 L120.50,260.27 L121.11,261.45 L121.72,262.66 L122.33,263.89 L122.93,265.14 L123.54,266.41 L124.15,267.71 L124.76,269.02 L125.36,270.35 L125.97,271.70 L126.58,273.06 L127.19,274.43 L127.79,275.81 L128.40,277.20 L129.01,278.59 L129.62,279.98 L130.22,281.37 L130.83,282.77 L131.44,284.15 L132.05,285.54 L132.65,286.91 L133.26,288.27 L133.87,289.62 L134.48,290.96 L135.08,292.27 L135.69,293.57 L136.30,294.85 L136.91,296.11 L137.51,297.35 L138.12,298.56 L138.73,299.74 L139.34,300.90 L139.94,302.03 L140.55,303.14 L141.16,304.21 L141.77,305.26 L142.37,306.27 L142.98,307.26 L143.59,308.21 L144.20,309.14 L144.80,310.03 L145.41,310.89 L146.02,311.73 L146.63,312.53 L147.23,313.31 L147.84,314.05 L148.45,314.77 L149.06,315.45 L149.66,316.12 L150.27,316.75 L150.88,317.36 L151.49,317.94 L152.09,318.50 L152.70,319.03 L153.31,319.54 L153.92,320.03 L154.52,320.49 L155.13,320.94 L155.74,321.36 L156.35,321.76 L156.95,322.15 L157.56,322.51 L158.17,322.86 L158.78,323.20 L159.38,323.51 L159.99,323.81 L160.60,324.10 L161.21,324.37 L161.81,324.63 L162.42,324.87 L163.03,325.11 L163.64,325.33 L164.24,325.54 L164.85,325.74 L165.46,325.93 L166.07,326.11 L166.67,326.28 L167.28,326.44 L167.89,326.59 L168.50,326.73 L169.10,326.87 L169.71,327.00 L170.32,327.12 L170.93,327.24 L171.53,327.35 L172.14,327.46 L172.75,327.56 L173.36,327.65 L173.96,327.74 L174.57,327.82 L175.18,327.90 L175.79,327.98 L176.39,328.05 L177.00,328.12 L177.61,328.18 L178.22,328.24 L178.82,328.30 L179.43,328.35 L180.04,328.40 L180.65,328.45 L181.25,328.50 L181.86,328.54 L182.47,328.58 L183.08,328.62 L183.68,328.65 L184.29,328.69 L184.90,328.72 L185.51,328.75 L186.11,328.78 L186.72,328.81 L187.33,328.84 L187.94,328.86 L188.54,328.88 L189.15,328.90 L189.76,328.93 L190.37,328.95 L190.97,328.96 L191.58,328.98 L192.19,329.00 L192.80,329.01 L193.40,329.03 L194.01,329.04 L194.62,329.06 L195.23,329.07 L195.83,329.08 L196.44,329.09" stroke="#2042f5" stroke-width="1.7" fill="none" />
<circle cx="63.50" cy="228.50" r="2.7" fill="#000"/>
<circle cx="81.50" cy="231.00" r="2.7" fill="#000"/>
<circle cx="99.40" cy="243.80" r="2.7" fill="#000"/>
<circle cx="117.70" cy="278.10" r="2.7" fill="#000"/>
<circle cx="135.20" cy="310.40" r="2.7" fill="#000"/>
<circle cx="153.80" cy="326.30" r="2.7" fill="#000"/>
<circle cx="171.40" cy="330.40" r="2.7" fill="#000"/>
<circle cx="189.60" cy="331.20" r="2.7" fill="#000"/>
<line x1="63.50" y1="230.10" x2="63.50" y2="235.30" stroke="#2042f5" stroke-width="1.1"/>
<line x1="61.20" y1="230.10" x2="65.80" y2="230.10" stroke="#2042f5" stroke-width="1.1"/>
<line x1="61.20" y1="235.30" x2="65.80" y2="235.30" stroke="#2042f5" stroke-width="1.1"/>
<circle cx="63.50" cy="232.70" r="2.7" fill="#2042f5"/>
<line x1="81.50" y1="228.70" x2="81.50" y2="233.90" stroke="#2042f5" stroke-width="1.1"/>
<line x1="79.20" y1="228.70" x2="83.80" y2="228.70" stroke="#2042f5" stroke-width="1.1"/>
<line x1="79.20" y1="233.90" x2="83.80" y2="233.90" stroke="#2042f5" stroke-width="1.1"/>
<circle cx="81.50" cy="231.30" r="2.7" fill="#2042f5"/>
<line x1="99.40" y1="233.90" x2="99.40" y2="239.10" stroke="#2042f5" stroke-width="1.1"/>
<line x1="97.10" y1="233.90" x2="101.70" y2="233.90" stroke="#2042f5" stroke-width="1.1"/>
<line x1="97.10" y1="239.10" x2="101.70" y2="239.10" stroke="#2042f5" stroke-width="1.1"/>
<circle cx="99.40" cy="236.50" r="2.7" fill="#2042f5"/>
<line x1="117.70" y1="252.80" x2="117.70" y2="258.00" stroke="#2042f5" stroke-width="1.1"/>
<line x1="115.40" y1="252.80" x2="120.00" y2="252.80" stroke="#2042f5" stroke-width="1.1"/>
<line x1="115.40" y1="258.00" x2="120.00" y2="258.00" stroke="#2042f5" stroke-width="1.1"/>
<circle cx="117.70" cy="255.40" r="2.7" fill="#2042f5"/>
<line x1="135.40" y1="290.50" x2="135.40" y2="295.70" stroke="#2042f5" stroke-width="1.1"/>
<line x1="133.10" y1="290.50" x2="137.70" y2="290.50" stroke="#2042f5" stroke-width="1.1"/>
<line x1="133.10" y1="295.70" x2="137.70" y2="295.70" stroke="#2042f5" stroke-width="1.1"/>
<circle cx="135.40" cy="293.10" r="2.7" fill="#2042f5"/>
<line x1="153.80" y1="316.80" x2="153.80" y2="322.00" stroke="#2042f5" stroke-width="1.1"/>
<line x1="151.50" y1="316.80" x2="156.10" y2="316.80" stroke="#2042f5" stroke-width="1.1"/>
<line x1="151.50" y1="322.00" x2="156.10" y2="322.00" stroke="#2042f5" stroke-width="1.1"/>
<circle cx="153.80" cy="319.40" r="2.7" fill="#2042f5"/>
<line x1="171.40" y1="324.10" x2="171.40" y2="329.30" stroke="#2042f5" stroke-width="1.1"/>
<line x1="169.10" y1="324.10" x2="173.70" y2="324.10" stroke="#2042f5" stroke-width="1.1"/>
<line x1="169.10" y1="329.30" x2="173.70" y2="329.30" stroke="#2042f5" stroke-width="1.1"/>
<circle cx="171.40" cy="326.70" r="2.7" fill="#2042f5"/>
<line x1="189.20" y1="327.00" x2="189.20" y2="332.20" stroke="#2042f5" stroke-width="1.1"/>
<line x1="186.90" y1="327.00" x2="191.50" y2="327.00" stroke="#2042f5" stroke-width="1.1"/>
<line x1="186.90" y1="332.20" x2="191.50" y2="332.20" stroke="#2042f5" stroke-width="1.1"/>
<circle cx="189.20" cy="329.60" r="2.7" fill="#2042f5"/>
<text x="246.30" y="199.90" font-size="15" text-anchor="start" fill="#000" font-weight="bold" >d</text>
<line x1="287.00" y1="226.70" x2="287.00" y2="334.20" stroke="#333" stroke-width="1.0"/>
<line x1="287.00" y1="334.20" x2="420.90" y2="334.20" stroke="#333" stroke-width="1.0"/>
<line x1="311.85" y1="334.20" x2="311.85" y2="336.80" stroke="#333" stroke-width="1.0"/>
<text x="311.85" y="346.80" font-size="10.4" text-anchor="middle" fill="#111" >-110</text>
<line x1="361.20" y1="334.20" x2="361.20" y2="336.80" stroke="#333" stroke-width="1.0"/>
<text x="361.20" y="346.80" font-size="10.4" text-anchor="middle" fill="#111" >-100</text>
<line x1="410.55" y1="334.20" x2="410.55" y2="336.80" stroke="#333" stroke-width="1.0"/>
<text x="410.55" y="346.80" font-size="10.4" text-anchor="middle" fill="#111" >-90</text>
<line x1="284.90" y1="253.60" x2="287.00" y2="253.60" stroke="#333" stroke-width="1.0"/>
<text x="281.00" y="258.00" font-size="10.4" text-anchor="end" fill="#111" >ctrl</text>
<line x1="284.90" y1="307.70" x2="287.00" y2="307.70" stroke="#333" stroke-width="1.0"/>
<text x="281.00" y="312.10" font-size="10.4" text-anchor="end" fill="#111" >NB5</text>
<text x="352.4" y="360.7" font-size="10.6" text-anchor="middle" fill="#111">V<tspan font-size="7" dy="3.3">1/2</tspan><tspan dy="-3.3">(mV)</tspan></text>
<line x1="337.20" y1="231.80" x2="337.20" y2="275.60" stroke="#000" stroke-width="1.0"/>
<line x1="333.40" y1="253.50" x2="340.50" y2="253.50" stroke="#000" stroke-width="0.9"/>
<line x1="333.40" y1="251.80" x2="333.40" y2="256.80" stroke="#000" stroke-width="0.9"/>
<circle cx="335.70" cy="235.60" r="2.9" fill="#000"/>
<circle cx="319.80" cy="242.80" r="2.9" fill="#000"/>
<circle cx="353.40" cy="239.40" r="2.9" fill="#000"/>
<circle cx="339.80" cy="246.50" r="2.9" fill="#000"/>
<circle cx="334.80" cy="249.90" r="2.9" fill="#000"/>
<circle cx="340.80" cy="253.70" r="2.9" fill="#000"/>
<circle cx="368.50" cy="253.40" r="2.9" fill="#000"/>
<circle cx="324.40" cy="257.20" r="2.9" fill="#000"/>
<circle cx="338.00" cy="261.00" r="2.9" fill="#000"/>
<circle cx="329.20" cy="264.60" r="2.9" fill="#000"/>
<circle cx="340.10" cy="268.10" r="2.9" fill="#000"/>
<circle cx="324.40" cy="271.60" r="2.9" fill="#000"/>
<line x1="382.70" y1="286.00" x2="382.70" y2="329.10" stroke="#000" stroke-width="1.0"/>
<line x1="378.40" y1="307.50" x2="387.70" y2="307.50" stroke="#000" stroke-width="0.9"/>
<line x1="378.40" y1="305.00" x2="378.40" y2="310.20" stroke="#000" stroke-width="0.9"/>
<line x1="387.70" y1="305.00" x2="387.70" y2="310.20" stroke="#000" stroke-width="0.9"/>
<circle cx="367.10" cy="289.10" r="2.9" fill="#0000ff"/>
<circle cx="371.60" cy="295.10" r="2.9" fill="#0000ff"/>
<circle cx="384.60" cy="301.50" r="2.9" fill="#0000ff"/>
<circle cx="404.90" cy="301.50" r="2.9" fill="#0000ff"/>
<circle cx="369.10" cy="307.50" r="2.9" fill="#0000ff"/>
<circle cx="400.10" cy="307.70" r="2.9" fill="#0000ff"/>
<circle cx="385.40" cy="313.90" r="2.9" fill="#0000ff"/>
<circle cx="396.60" cy="313.90" r="2.9" fill="#0000ff"/>
<circle cx="373.20" cy="319.90" r="2.9" fill="#0000ff"/>
<circle cx="373.90" cy="326.00" r="2.9" fill="#0000ff"/>
<text x="464.80" y="199.90" font-size="15" text-anchor="start" fill="#000" font-weight="bold" >e</text>
<line x1="512.70" y1="226.00" x2="512.70" y2="334.00" stroke="#333" stroke-width="1.0"/>
<line x1="512.70" y1="334.00" x2="646.00" y2="334.00" stroke="#333" stroke-width="1.0"/>
<line x1="510.60" y1="327.20" x2="512.70" y2="327.20" stroke="#333" stroke-width="1.0"/>
<text x="508.60" y="330.90" font-size="10.4" text-anchor="end" fill="#111" >0</text>
<line x1="510.60" y1="281.30" x2="512.70" y2="281.30" stroke="#333" stroke-width="1.0"/>
<text x="508.60" y="285.00" font-size="10.4" text-anchor="end" fill="#111" >5</text>
<line x1="510.60" y1="235.40" x2="512.70" y2="235.40" stroke="#333" stroke-width="1.0"/>
<text x="508.60" y="239.10" font-size="10.4" text-anchor="end" fill="#111" >10</text>
<line x1="521.40" y1="334.00" x2="521.40" y2="336.80" stroke="#333" stroke-width="0.9"/>
<line x1="582.40" y1="334.00" x2="582.40" y2="336.80" stroke="#333" stroke-width="0.9"/>
<line x1="643.40" y1="334.00" x2="643.40" y2="336.80" stroke="#333" stroke-width="0.9"/>
<line x1="554.40" y1="334.00" x2="554.40" y2="335.60" stroke="#333" stroke-width="0.7"/>
<line x1="560.60" y1="334.00" x2="560.60" y2="335.60" stroke="#333" stroke-width="0.7"/>
<line x1="564.10" y1="334.00" x2="564.10" y2="335.60" stroke="#333" stroke-width="0.7"/>
<line x1="566.70" y1="334.00" x2="566.70" y2="335.60" stroke="#333" stroke-width="0.7"/>
<line x1="568.70" y1="334.00" x2="568.70" y2="335.60" stroke="#333" stroke-width="0.7"/>
<line x1="571.30" y1="334.00" x2="571.30" y2="335.60" stroke="#333" stroke-width="0.7"/>
<line x1="573.30" y1="334.00" x2="573.30" y2="335.60" stroke="#333" stroke-width="0.7"/>
<line x1="575.40" y1="334.00" x2="575.40" y2="335.60" stroke="#333" stroke-width="0.7"/>
<line x1="577.40" y1="334.00" x2="577.40" y2="335.60" stroke="#333" stroke-width="0.7"/>
<line x1="579.50" y1="334.00" x2="579.50" y2="335.60" stroke="#333" stroke-width="0.7"/>
<line x1="615.50" y1="334.00" x2="615.50" y2="335.60" stroke="#333" stroke-width="0.7"/>
<line x1="624.30" y1="334.00" x2="624.30" y2="335.60" stroke="#333" stroke-width="0.7"/>
<line x1="629.30" y1="334.00" x2="629.30" y2="335.60" stroke="#333" stroke-width="0.7"/>
<line x1="632.50" y1="334.00" x2="632.50" y2="335.60" stroke="#333" stroke-width="0.7"/>
<line x1="634.80" y1="334.00" x2="634.80" y2="335.60" stroke="#333" stroke-width="0.7"/>
<line x1="637.00" y1="334.00" x2="637.00" y2="335.60" stroke="#333" stroke-width="0.7"/>
<line x1="639.10" y1="334.00" x2="639.10" y2="335.60" stroke="#333" stroke-width="0.7"/>
<line x1="640.80" y1="334.00" x2="640.80" y2="335.60" stroke="#333" stroke-width="0.7"/>
<line x1="642.20" y1="334.00" x2="642.20" y2="335.60" stroke="#333" stroke-width="0.7"/>
<line x1="645.00" y1="334.00" x2="645.00" y2="335.60" stroke="#333" stroke-width="0.7"/>
<text x="521.40" y="347.20" font-size="10.4" text-anchor="middle" fill="#111" >0.002</text>
<text x="582.40" y="347.20" font-size="10.4" text-anchor="middle" fill="#111" >0.2</text>
<text x="643.40" y="347.20" font-size="10.4" text-anchor="middle" fill="#111" >20</text>
<text x="579.70" y="361.00" font-size="10.8" text-anchor="middle" fill="#111" >[NB5](μM)</text>
<text transform="translate(492.4,280.8) rotate(-90)" font-size="11.2" text-anchor="middle" fill="#111"><tspan font-size="12">Δ</tspan>V<tspan font-size="9.8" dy="4.3">1/2</tspan><tspan dy="-4.3">(mV)</tspan></text>
<path d="M521.20,317.46 L521.99,317.06 L522.77,316.64 L523.56,316.21 L524.35,315.77 L525.13,315.32 L525.92,314.86 L526.71,314.38 L527.49,313.89 L528.28,313.39 L529.07,312.88 L529.85,312.35 L530.64,311.81 L531.43,311.26 L532.22,310.70 L533.00,310.12 L533.79,309.53 L534.58,308.93 L535.36,308.31 L536.15,307.68 L536.94,307.04 L537.72,306.39 L538.51,305.72 L539.30,305.05 L540.08,304.36 L540.87,303.65 L541.66,302.94 L542.44,302.22 L543.23,301.48 L544.02,300.74 L544.80,299.98 L545.59,299.22 L546.38,298.44 L547.16,297.65 L547.95,296.86 L548.74,296.06 L549.52,295.25 L550.31,294.43 L551.10,293.61 L551.88,292.78 L552.67,291.94 L553.46,291.10 L554.25,290.25 L555.03,289.40 L555.82,288.55 L556.61,287.69 L557.39,286.83 L558.18,285.97 L558.97,285.11 L559.75,284.25 L560.54,283.39 L561.33,282.53 L562.11,281.67 L562.90,280.82 L563.69,279.96 L564.47,279.11 L565.26,278.27 L566.05,277.43 L566.83,276.59 L567.62,275.76 L568.41,274.94 L569.19,274.12 L569.98,273.31 L570.77,272.51 L571.55,271.72 L572.34,270.93 L573.13,270.16 L573.92,269.39 L574.70,268.64 L575.49,267.89 L576.28,267.16 L577.06,266.43 L577.85,265.72 L578.64,265.02 L579.42,264.33 L580.21,263.66 L581.00,262.99 L581.78,262.34 L582.57,261.70 L583.36,261.07 L584.14,260.46 L584.93,259.86 L585.72,259.27 L586.50,258.69 L587.29,258.13 L588.08,257.58 L588.86,257.04 L589.65,256.51 L590.44,256.00 L591.22,255.50 L592.01,255.01 L592.80,254.54 L593.58,254.07 L594.37,253.62 L595.16,253.18 L595.95,252.76 L596.73,252.34 L597.52,251.94 L598.31,251.54 L599.09,251.16 L599.88,250.79 L600.67,250.43 L601.45,250.08 L602.24,249.74 L603.03,249.41 L603.81,249.09 L604.60,248.78 L605.39,248.48 L606.17,248.19 L606.96,247.90 L607.75,247.63 L608.53,247.36 L609.32,247.11 L610.11,246.86 L610.89,246.62 L611.68,246.39 L612.47,246.16 L613.25,245.94 L614.04,245.73 L614.83,245.53 L615.62,245.33 L616.40,245.14 L617.19,244.96 L617.98,244.78 L618.76,244.61 L619.55,244.44 L620.34,244.28 L621.12,244.12 L621.91,243.98 L622.70,243.83 L623.48,243.69 L624.27,243.56 L625.06,243.43 L625.84,243.30 L626.63,243.18 L627.42,243.06 L628.20,242.95 L628.99,242.84 L629.78,242.74 L630.56,242.64 L631.35,242.54 L632.14,242.45 L632.92,242.35 L633.71,242.27 L634.50,242.18 L635.28,242.10 L636.07,242.02 L636.86,241.95 L637.65,241.87 L638.43,241.80 L639.22,241.74 L640.01,241.67 L640.79,241.61 L641.58,241.55 L642.37,241.49 L643.15,241.43 L643.94,241.38 L644.73,241.33 L645.51,241.28 L646.30,241.23" stroke="#2042f5" stroke-width="1.6" fill="none" />
<line x1="521.50" y1="302.30" x2="521.50" y2="333.50" stroke="#2042f5" stroke-width="1.3"/>
<line x1="518.90" y1="302.30" x2="524.10" y2="302.30" stroke="#2042f5" stroke-width="1.3"/>
<line x1="518.90" y1="333.50" x2="524.10" y2="333.50" stroke="#2042f5" stroke-width="1.3"/>
<circle cx="521.50" cy="318.30" r="2.9" fill="#2042f5"/>
<line x1="530.50" y1="292.70" x2="530.50" y2="330.70" stroke="#2042f5" stroke-width="1.3"/>
<line x1="527.90" y1="292.70" x2="533.10" y2="292.70" stroke="#2042f5" stroke-width="1.3"/>
<line x1="527.90" y1="330.70" x2="533.10" y2="330.70" stroke="#2042f5" stroke-width="1.3"/>
<circle cx="530.50" cy="311.30" r="2.9" fill="#2042f5"/>
<line x1="552.00" y1="281.60" x2="552.00" y2="300.20" stroke="#2042f5" stroke-width="1.3"/>
<line x1="549.40" y1="281.60" x2="554.60" y2="281.60" stroke="#2042f5" stroke-width="1.3"/>
<line x1="549.40" y1="300.20" x2="554.60" y2="300.20" stroke="#2042f5" stroke-width="1.3"/>
<circle cx="552.00" cy="291.20" r="2.9" fill="#2042f5"/>
<line x1="582.70" y1="254.40" x2="582.70" y2="278.60" stroke="#2042f5" stroke-width="1.3"/>
<line x1="580.10" y1="254.40" x2="585.30" y2="254.40" stroke="#2042f5" stroke-width="1.3"/>
<line x1="580.10" y1="278.60" x2="585.30" y2="278.60" stroke="#2042f5" stroke-width="1.3"/>
<circle cx="582.70" cy="265.50" r="2.9" fill="#2042f5"/>
<line x1="613.40" y1="227.10" x2="613.40" y2="253.60" stroke="#2042f5" stroke-width="1.3"/>
<line x1="610.80" y1="227.10" x2="616.00" y2="227.10" stroke="#2042f5" stroke-width="1.3"/>
<line x1="610.80" y1="253.60" x2="616.00" y2="253.60" stroke="#2042f5" stroke-width="1.3"/>
<circle cx="613.40" cy="240.50" r="2.9" fill="#2042f5"/>
<line x1="643.60" y1="233.90" x2="643.60" y2="254.00" stroke="#2042f5" stroke-width="1.3"/>
<line x1="641.00" y1="233.90" x2="646.20" y2="233.90" stroke="#2042f5" stroke-width="1.3"/>
<line x1="641.00" y1="254.00" x2="646.20" y2="254.00" stroke="#2042f5" stroke-width="1.3"/>
<circle cx="643.60" cy="243.70" r="2.9" fill="#2042f5"/>
</svg>
</body></html>
